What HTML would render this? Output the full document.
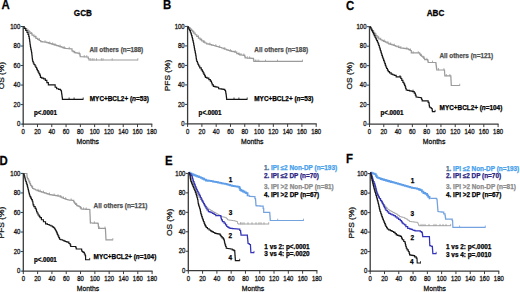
<!DOCTYPE html>
<html><head><meta charset="utf-8"><title>Survival curves</title>
<style>
html,body{margin:0;padding:0;background:#fff;width:520px;height:292px;overflow:hidden;}
svg{display:block;font-family:"Liberation Sans", sans-serif;}
</style></head><body>
<svg width="520" height="292" viewBox="0 0 520 292" font-family='"Liberation Sans", sans-serif'>
<rect width="520" height="292" fill="#fff"/>
<text transform="translate(1.55,9.35) scale(0.92,1)" font-size="12.4" font-weight="bold" fill="#000" text-anchor="start" stroke="#000" stroke-width="0.25">A</text>
<text transform="translate(163.1,9.05) scale(0.92,1)" font-size="12.4" font-weight="bold" fill="#000" text-anchor="start" stroke="#000" stroke-width="0.25">B</text>
<text transform="translate(346,9.65) scale(0.92,1)" font-size="12.4" font-weight="bold" fill="#000" text-anchor="start" stroke="#000" stroke-width="0.25">C</text>
<text transform="translate(-0.6,165.45) scale(0.92,1)" font-size="12.4" font-weight="bold" fill="#000" text-anchor="start" stroke="#000" stroke-width="0.25">D</text>
<text transform="translate(164.9,164.55) scale(0.92,1)" font-size="12.4" font-weight="bold" fill="#000" text-anchor="start" stroke="#000" stroke-width="0.25">E</text>
<text transform="translate(346,162.95) scale(0.92,1)" font-size="12.4" font-weight="bold" fill="#000" text-anchor="start" stroke="#000" stroke-width="0.25">F</text>
<text transform="translate(82.9,15.78) scale(0.95,1)" font-size="8.6" font-weight="bold" fill="#000" text-anchor="middle" stroke="#000" stroke-width="0.25">GCB</text>
<text transform="translate(435.5,16.08) scale(0.95,1)" font-size="8.6" font-weight="bold" fill="#000" text-anchor="middle" stroke="#000" stroke-width="0.25">ABC</text>
<line x1="23.2" y1="26" x2="23.2" y2="124.7" stroke="#3a3a3a" stroke-width="1.3"/>
<line x1="22.6" y1="124.1" x2="152.3" y2="124.1" stroke="#3a3a3a" stroke-width="1.2"/>
<line x1="20.6" y1="124.1" x2="23.2" y2="124.1" stroke="#3a3a3a" stroke-width="1"/>
<text transform="translate(20.2,126.33) scale(0.92,1)" font-size="6.5" font-weight="normal" fill="#1a1a1a" text-anchor="end" stroke="#1a1a1a" stroke-width="0.3">0</text>
<line x1="20.6" y1="104.58" x2="23.2" y2="104.58" stroke="#3a3a3a" stroke-width="1"/>
<text transform="translate(20.2,106.81) scale(0.92,1)" font-size="6.5" font-weight="normal" fill="#1a1a1a" text-anchor="end" stroke="#1a1a1a" stroke-width="0.3">20</text>
<line x1="20.6" y1="85.06" x2="23.2" y2="85.06" stroke="#3a3a3a" stroke-width="1"/>
<text transform="translate(20.2,87.29) scale(0.92,1)" font-size="6.5" font-weight="normal" fill="#1a1a1a" text-anchor="end" stroke="#1a1a1a" stroke-width="0.3">40</text>
<line x1="20.6" y1="65.54" x2="23.2" y2="65.54" stroke="#3a3a3a" stroke-width="1"/>
<text transform="translate(20.2,67.77) scale(0.92,1)" font-size="6.5" font-weight="normal" fill="#1a1a1a" text-anchor="end" stroke="#1a1a1a" stroke-width="0.3">60</text>
<line x1="20.6" y1="46.02" x2="23.2" y2="46.02" stroke="#3a3a3a" stroke-width="1"/>
<text transform="translate(20.2,48.25) scale(0.92,1)" font-size="6.5" font-weight="normal" fill="#1a1a1a" text-anchor="end" stroke="#1a1a1a" stroke-width="0.3">80</text>
<line x1="20.6" y1="26.5" x2="23.2" y2="26.5" stroke="#3a3a3a" stroke-width="1"/>
<text transform="translate(20.2,28.73) scale(0.92,1)" font-size="6.5" font-weight="normal" fill="#1a1a1a" text-anchor="end" stroke="#1a1a1a" stroke-width="0.3">100</text>
<line x1="23.2" y1="124.1" x2="23.2" y2="127.1" stroke="#3a3a3a" stroke-width="1"/>
<text transform="translate(23.2,134.03) scale(0.92,1)" font-size="6.5" font-weight="normal" fill="#1a1a1a" text-anchor="middle" stroke="#1a1a1a" stroke-width="0.3">0</text>
<line x1="37.49" y1="124.1" x2="37.49" y2="127.1" stroke="#3a3a3a" stroke-width="1"/>
<text transform="translate(37.49,134.03) scale(0.92,1)" font-size="6.5" font-weight="normal" fill="#1a1a1a" text-anchor="middle" stroke="#1a1a1a" stroke-width="0.3">20</text>
<line x1="51.78" y1="124.1" x2="51.78" y2="127.1" stroke="#3a3a3a" stroke-width="1"/>
<text transform="translate(51.78,134.03) scale(0.92,1)" font-size="6.5" font-weight="normal" fill="#1a1a1a" text-anchor="middle" stroke="#1a1a1a" stroke-width="0.3">40</text>
<line x1="66.07" y1="124.1" x2="66.07" y2="127.1" stroke="#3a3a3a" stroke-width="1"/>
<text transform="translate(66.07,134.03) scale(0.92,1)" font-size="6.5" font-weight="normal" fill="#1a1a1a" text-anchor="middle" stroke="#1a1a1a" stroke-width="0.3">60</text>
<line x1="80.36" y1="124.1" x2="80.36" y2="127.1" stroke="#3a3a3a" stroke-width="1"/>
<text transform="translate(80.36,134.03) scale(0.92,1)" font-size="6.5" font-weight="normal" fill="#1a1a1a" text-anchor="middle" stroke="#1a1a1a" stroke-width="0.3">80</text>
<line x1="94.64" y1="124.1" x2="94.64" y2="127.1" stroke="#3a3a3a" stroke-width="1"/>
<text transform="translate(94.64,134.03) scale(0.92,1)" font-size="6.5" font-weight="normal" fill="#1a1a1a" text-anchor="middle" stroke="#1a1a1a" stroke-width="0.3">100</text>
<line x1="108.93" y1="124.1" x2="108.93" y2="127.1" stroke="#3a3a3a" stroke-width="1"/>
<text transform="translate(108.93,134.03) scale(0.92,1)" font-size="6.5" font-weight="normal" fill="#1a1a1a" text-anchor="middle" stroke="#1a1a1a" stroke-width="0.3">120</text>
<line x1="123.22" y1="124.1" x2="123.22" y2="127.1" stroke="#3a3a3a" stroke-width="1"/>
<text transform="translate(123.22,134.03) scale(0.92,1)" font-size="6.5" font-weight="normal" fill="#1a1a1a" text-anchor="middle" stroke="#1a1a1a" stroke-width="0.3">140</text>
<line x1="137.51" y1="124.1" x2="137.51" y2="127.1" stroke="#3a3a3a" stroke-width="1"/>
<text transform="translate(137.51,134.03) scale(0.92,1)" font-size="6.5" font-weight="normal" fill="#1a1a1a" text-anchor="middle" stroke="#1a1a1a" stroke-width="0.3">160</text>
<line x1="151.8" y1="124.1" x2="151.8" y2="127.1" stroke="#3a3a3a" stroke-width="1"/>
<text transform="translate(151.8,134.03) scale(0.92,1)" font-size="6.5" font-weight="normal" fill="#1a1a1a" text-anchor="middle" stroke="#1a1a1a" stroke-width="0.3">180</text>
<text transform="translate(4.1,75.65) rotate(-90) scale(1.06,1)" font-size="7.9" fill="#151515" text-anchor="middle" stroke="#151515" stroke-width="0.28">OS (%)</text>
<text transform="translate(87.8,144.1) scale(0.88,1)" font-size="7.8" fill="#111" text-anchor="middle" stroke="#111" stroke-width="0.3">Months</text>
<line x1="187.6" y1="25.9" x2="187.6" y2="124.5" stroke="#3a3a3a" stroke-width="1.3"/>
<line x1="187" y1="123.9" x2="316.7" y2="123.9" stroke="#3a3a3a" stroke-width="1.2"/>
<line x1="185" y1="123.9" x2="187.6" y2="123.9" stroke="#3a3a3a" stroke-width="1"/>
<text transform="translate(184.6,126.13) scale(0.92,1)" font-size="6.5" font-weight="normal" fill="#1a1a1a" text-anchor="end" stroke="#1a1a1a" stroke-width="0.3">0</text>
<line x1="185" y1="104.4" x2="187.6" y2="104.4" stroke="#3a3a3a" stroke-width="1"/>
<text transform="translate(184.6,106.63) scale(0.92,1)" font-size="6.5" font-weight="normal" fill="#1a1a1a" text-anchor="end" stroke="#1a1a1a" stroke-width="0.3">20</text>
<line x1="185" y1="84.9" x2="187.6" y2="84.9" stroke="#3a3a3a" stroke-width="1"/>
<text transform="translate(184.6,87.13) scale(0.92,1)" font-size="6.5" font-weight="normal" fill="#1a1a1a" text-anchor="end" stroke="#1a1a1a" stroke-width="0.3">40</text>
<line x1="185" y1="65.4" x2="187.6" y2="65.4" stroke="#3a3a3a" stroke-width="1"/>
<text transform="translate(184.6,67.63) scale(0.92,1)" font-size="6.5" font-weight="normal" fill="#1a1a1a" text-anchor="end" stroke="#1a1a1a" stroke-width="0.3">60</text>
<line x1="185" y1="45.9" x2="187.6" y2="45.9" stroke="#3a3a3a" stroke-width="1"/>
<text transform="translate(184.6,48.13) scale(0.92,1)" font-size="6.5" font-weight="normal" fill="#1a1a1a" text-anchor="end" stroke="#1a1a1a" stroke-width="0.3">80</text>
<line x1="185" y1="26.4" x2="187.6" y2="26.4" stroke="#3a3a3a" stroke-width="1"/>
<text transform="translate(184.6,28.63) scale(0.92,1)" font-size="6.5" font-weight="normal" fill="#1a1a1a" text-anchor="end" stroke="#1a1a1a" stroke-width="0.3">100</text>
<line x1="187.6" y1="123.9" x2="187.6" y2="126.9" stroke="#3a3a3a" stroke-width="1"/>
<text transform="translate(187.6,133.83) scale(0.92,1)" font-size="6.5" font-weight="normal" fill="#1a1a1a" text-anchor="middle" stroke="#1a1a1a" stroke-width="0.3">0</text>
<line x1="201.89" y1="123.9" x2="201.89" y2="126.9" stroke="#3a3a3a" stroke-width="1"/>
<text transform="translate(201.89,133.83) scale(0.92,1)" font-size="6.5" font-weight="normal" fill="#1a1a1a" text-anchor="middle" stroke="#1a1a1a" stroke-width="0.3">20</text>
<line x1="216.18" y1="123.9" x2="216.18" y2="126.9" stroke="#3a3a3a" stroke-width="1"/>
<text transform="translate(216.18,133.83) scale(0.92,1)" font-size="6.5" font-weight="normal" fill="#1a1a1a" text-anchor="middle" stroke="#1a1a1a" stroke-width="0.3">40</text>
<line x1="230.47" y1="123.9" x2="230.47" y2="126.9" stroke="#3a3a3a" stroke-width="1"/>
<text transform="translate(230.47,133.83) scale(0.92,1)" font-size="6.5" font-weight="normal" fill="#1a1a1a" text-anchor="middle" stroke="#1a1a1a" stroke-width="0.3">60</text>
<line x1="244.76" y1="123.9" x2="244.76" y2="126.9" stroke="#3a3a3a" stroke-width="1"/>
<text transform="translate(244.76,133.83) scale(0.92,1)" font-size="6.5" font-weight="normal" fill="#1a1a1a" text-anchor="middle" stroke="#1a1a1a" stroke-width="0.3">80</text>
<line x1="259.04" y1="123.9" x2="259.04" y2="126.9" stroke="#3a3a3a" stroke-width="1"/>
<text transform="translate(259.04,133.83) scale(0.92,1)" font-size="6.5" font-weight="normal" fill="#1a1a1a" text-anchor="middle" stroke="#1a1a1a" stroke-width="0.3">100</text>
<line x1="273.33" y1="123.9" x2="273.33" y2="126.9" stroke="#3a3a3a" stroke-width="1"/>
<text transform="translate(273.33,133.83) scale(0.92,1)" font-size="6.5" font-weight="normal" fill="#1a1a1a" text-anchor="middle" stroke="#1a1a1a" stroke-width="0.3">120</text>
<line x1="287.62" y1="123.9" x2="287.62" y2="126.9" stroke="#3a3a3a" stroke-width="1"/>
<text transform="translate(287.62,133.83) scale(0.92,1)" font-size="6.5" font-weight="normal" fill="#1a1a1a" text-anchor="middle" stroke="#1a1a1a" stroke-width="0.3">140</text>
<line x1="301.91" y1="123.9" x2="301.91" y2="126.9" stroke="#3a3a3a" stroke-width="1"/>
<text transform="translate(301.91,133.83) scale(0.92,1)" font-size="6.5" font-weight="normal" fill="#1a1a1a" text-anchor="middle" stroke="#1a1a1a" stroke-width="0.3">160</text>
<line x1="316.2" y1="123.9" x2="316.2" y2="126.9" stroke="#3a3a3a" stroke-width="1"/>
<text transform="translate(316.2,133.83) scale(0.92,1)" font-size="6.5" font-weight="normal" fill="#1a1a1a" text-anchor="middle" stroke="#1a1a1a" stroke-width="0.3">180</text>
<text transform="translate(169.6,75.5) rotate(-90) scale(1.06,1)" font-size="7.9" fill="#151515" text-anchor="middle" stroke="#151515" stroke-width="0.28">PFS (%)</text>
<text transform="translate(252.2,143.9) scale(0.88,1)" font-size="7.8" fill="#111" text-anchor="middle" stroke="#111" stroke-width="0.3">Months</text>
<line x1="369.5" y1="26.2" x2="369.5" y2="124.7" stroke="#3a3a3a" stroke-width="1.3"/>
<line x1="368.9" y1="124.1" x2="498.6" y2="124.1" stroke="#3a3a3a" stroke-width="1.2"/>
<line x1="366.9" y1="124.1" x2="369.5" y2="124.1" stroke="#3a3a3a" stroke-width="1"/>
<text transform="translate(366.5,126.33) scale(0.92,1)" font-size="6.5" font-weight="normal" fill="#1a1a1a" text-anchor="end" stroke="#1a1a1a" stroke-width="0.3">0</text>
<line x1="366.9" y1="104.62" x2="369.5" y2="104.62" stroke="#3a3a3a" stroke-width="1"/>
<text transform="translate(366.5,106.85) scale(0.92,1)" font-size="6.5" font-weight="normal" fill="#1a1a1a" text-anchor="end" stroke="#1a1a1a" stroke-width="0.3">20</text>
<line x1="366.9" y1="85.14" x2="369.5" y2="85.14" stroke="#3a3a3a" stroke-width="1"/>
<text transform="translate(366.5,87.37) scale(0.92,1)" font-size="6.5" font-weight="normal" fill="#1a1a1a" text-anchor="end" stroke="#1a1a1a" stroke-width="0.3">40</text>
<line x1="366.9" y1="65.66" x2="369.5" y2="65.66" stroke="#3a3a3a" stroke-width="1"/>
<text transform="translate(366.5,67.89) scale(0.92,1)" font-size="6.5" font-weight="normal" fill="#1a1a1a" text-anchor="end" stroke="#1a1a1a" stroke-width="0.3">60</text>
<line x1="366.9" y1="46.18" x2="369.5" y2="46.18" stroke="#3a3a3a" stroke-width="1"/>
<text transform="translate(366.5,48.41) scale(0.92,1)" font-size="6.5" font-weight="normal" fill="#1a1a1a" text-anchor="end" stroke="#1a1a1a" stroke-width="0.3">80</text>
<line x1="366.9" y1="26.7" x2="369.5" y2="26.7" stroke="#3a3a3a" stroke-width="1"/>
<text transform="translate(366.5,28.93) scale(0.92,1)" font-size="6.5" font-weight="normal" fill="#1a1a1a" text-anchor="end" stroke="#1a1a1a" stroke-width="0.3">100</text>
<line x1="369.5" y1="124.1" x2="369.5" y2="127.1" stroke="#3a3a3a" stroke-width="1"/>
<text transform="translate(369.5,134.03) scale(0.92,1)" font-size="6.5" font-weight="normal" fill="#1a1a1a" text-anchor="middle" stroke="#1a1a1a" stroke-width="0.3">0</text>
<line x1="383.79" y1="124.1" x2="383.79" y2="127.1" stroke="#3a3a3a" stroke-width="1"/>
<text transform="translate(383.79,134.03) scale(0.92,1)" font-size="6.5" font-weight="normal" fill="#1a1a1a" text-anchor="middle" stroke="#1a1a1a" stroke-width="0.3">20</text>
<line x1="398.08" y1="124.1" x2="398.08" y2="127.1" stroke="#3a3a3a" stroke-width="1"/>
<text transform="translate(398.08,134.03) scale(0.92,1)" font-size="6.5" font-weight="normal" fill="#1a1a1a" text-anchor="middle" stroke="#1a1a1a" stroke-width="0.3">40</text>
<line x1="412.37" y1="124.1" x2="412.37" y2="127.1" stroke="#3a3a3a" stroke-width="1"/>
<text transform="translate(412.37,134.03) scale(0.92,1)" font-size="6.5" font-weight="normal" fill="#1a1a1a" text-anchor="middle" stroke="#1a1a1a" stroke-width="0.3">60</text>
<line x1="426.66" y1="124.1" x2="426.66" y2="127.1" stroke="#3a3a3a" stroke-width="1"/>
<text transform="translate(426.66,134.03) scale(0.92,1)" font-size="6.5" font-weight="normal" fill="#1a1a1a" text-anchor="middle" stroke="#1a1a1a" stroke-width="0.3">80</text>
<line x1="440.94" y1="124.1" x2="440.94" y2="127.1" stroke="#3a3a3a" stroke-width="1"/>
<text transform="translate(440.94,134.03) scale(0.92,1)" font-size="6.5" font-weight="normal" fill="#1a1a1a" text-anchor="middle" stroke="#1a1a1a" stroke-width="0.3">100</text>
<line x1="455.23" y1="124.1" x2="455.23" y2="127.1" stroke="#3a3a3a" stroke-width="1"/>
<text transform="translate(455.23,134.03) scale(0.92,1)" font-size="6.5" font-weight="normal" fill="#1a1a1a" text-anchor="middle" stroke="#1a1a1a" stroke-width="0.3">120</text>
<line x1="469.52" y1="124.1" x2="469.52" y2="127.1" stroke="#3a3a3a" stroke-width="1"/>
<text transform="translate(469.52,134.03) scale(0.92,1)" font-size="6.5" font-weight="normal" fill="#1a1a1a" text-anchor="middle" stroke="#1a1a1a" stroke-width="0.3">140</text>
<line x1="483.81" y1="124.1" x2="483.81" y2="127.1" stroke="#3a3a3a" stroke-width="1"/>
<text transform="translate(483.81,134.03) scale(0.92,1)" font-size="6.5" font-weight="normal" fill="#1a1a1a" text-anchor="middle" stroke="#1a1a1a" stroke-width="0.3">160</text>
<line x1="498.1" y1="124.1" x2="498.1" y2="127.1" stroke="#3a3a3a" stroke-width="1"/>
<text transform="translate(498.1,134.03) scale(0.92,1)" font-size="6.5" font-weight="normal" fill="#1a1a1a" text-anchor="middle" stroke="#1a1a1a" stroke-width="0.3">180</text>
<text transform="translate(352.1,75.75) rotate(-90) scale(1.06,1)" font-size="7.9" fill="#151515" text-anchor="middle" stroke="#151515" stroke-width="0.28">OS (%)</text>
<text transform="translate(434.1,144.1) scale(0.88,1)" font-size="7.8" fill="#111" text-anchor="middle" stroke="#111" stroke-width="0.3">Months</text>
<line x1="23.3" y1="172.9" x2="23.3" y2="271.7" stroke="#3a3a3a" stroke-width="1.3"/>
<line x1="22.7" y1="271.1" x2="152.6" y2="271.1" stroke="#3a3a3a" stroke-width="1.2"/>
<line x1="20.7" y1="271.1" x2="23.3" y2="271.1" stroke="#3a3a3a" stroke-width="1"/>
<text transform="translate(20.3,273.33) scale(0.92,1)" font-size="6.5" font-weight="normal" fill="#1a1a1a" text-anchor="end" stroke="#1a1a1a" stroke-width="0.3">0</text>
<line x1="20.7" y1="251.56" x2="23.3" y2="251.56" stroke="#3a3a3a" stroke-width="1"/>
<text transform="translate(20.3,253.79) scale(0.92,1)" font-size="6.5" font-weight="normal" fill="#1a1a1a" text-anchor="end" stroke="#1a1a1a" stroke-width="0.3">20</text>
<line x1="20.7" y1="232.02" x2="23.3" y2="232.02" stroke="#3a3a3a" stroke-width="1"/>
<text transform="translate(20.3,234.25) scale(0.92,1)" font-size="6.5" font-weight="normal" fill="#1a1a1a" text-anchor="end" stroke="#1a1a1a" stroke-width="0.3">40</text>
<line x1="20.7" y1="212.48" x2="23.3" y2="212.48" stroke="#3a3a3a" stroke-width="1"/>
<text transform="translate(20.3,214.71) scale(0.92,1)" font-size="6.5" font-weight="normal" fill="#1a1a1a" text-anchor="end" stroke="#1a1a1a" stroke-width="0.3">60</text>
<line x1="20.7" y1="192.94" x2="23.3" y2="192.94" stroke="#3a3a3a" stroke-width="1"/>
<text transform="translate(20.3,195.17) scale(0.92,1)" font-size="6.5" font-weight="normal" fill="#1a1a1a" text-anchor="end" stroke="#1a1a1a" stroke-width="0.3">80</text>
<line x1="20.7" y1="173.4" x2="23.3" y2="173.4" stroke="#3a3a3a" stroke-width="1"/>
<text transform="translate(20.3,175.63) scale(0.92,1)" font-size="6.5" font-weight="normal" fill="#1a1a1a" text-anchor="end" stroke="#1a1a1a" stroke-width="0.3">100</text>
<line x1="23.3" y1="271.1" x2="23.3" y2="274.1" stroke="#3a3a3a" stroke-width="1"/>
<text transform="translate(23.3,281.03) scale(0.92,1)" font-size="6.5" font-weight="normal" fill="#1a1a1a" text-anchor="middle" stroke="#1a1a1a" stroke-width="0.3">0</text>
<line x1="37.61" y1="271.1" x2="37.61" y2="274.1" stroke="#3a3a3a" stroke-width="1"/>
<text transform="translate(37.61,281.03) scale(0.92,1)" font-size="6.5" font-weight="normal" fill="#1a1a1a" text-anchor="middle" stroke="#1a1a1a" stroke-width="0.3">20</text>
<line x1="51.92" y1="271.1" x2="51.92" y2="274.1" stroke="#3a3a3a" stroke-width="1"/>
<text transform="translate(51.92,281.03) scale(0.92,1)" font-size="6.5" font-weight="normal" fill="#1a1a1a" text-anchor="middle" stroke="#1a1a1a" stroke-width="0.3">40</text>
<line x1="66.23" y1="271.1" x2="66.23" y2="274.1" stroke="#3a3a3a" stroke-width="1"/>
<text transform="translate(66.23,281.03) scale(0.92,1)" font-size="6.5" font-weight="normal" fill="#1a1a1a" text-anchor="middle" stroke="#1a1a1a" stroke-width="0.3">60</text>
<line x1="80.54" y1="271.1" x2="80.54" y2="274.1" stroke="#3a3a3a" stroke-width="1"/>
<text transform="translate(80.54,281.03) scale(0.92,1)" font-size="6.5" font-weight="normal" fill="#1a1a1a" text-anchor="middle" stroke="#1a1a1a" stroke-width="0.3">80</text>
<line x1="94.86" y1="271.1" x2="94.86" y2="274.1" stroke="#3a3a3a" stroke-width="1"/>
<text transform="translate(94.86,281.03) scale(0.92,1)" font-size="6.5" font-weight="normal" fill="#1a1a1a" text-anchor="middle" stroke="#1a1a1a" stroke-width="0.3">100</text>
<line x1="109.17" y1="271.1" x2="109.17" y2="274.1" stroke="#3a3a3a" stroke-width="1"/>
<text transform="translate(109.17,281.03) scale(0.92,1)" font-size="6.5" font-weight="normal" fill="#1a1a1a" text-anchor="middle" stroke="#1a1a1a" stroke-width="0.3">120</text>
<line x1="123.48" y1="271.1" x2="123.48" y2="274.1" stroke="#3a3a3a" stroke-width="1"/>
<text transform="translate(123.48,281.03) scale(0.92,1)" font-size="6.5" font-weight="normal" fill="#1a1a1a" text-anchor="middle" stroke="#1a1a1a" stroke-width="0.3">140</text>
<line x1="137.79" y1="271.1" x2="137.79" y2="274.1" stroke="#3a3a3a" stroke-width="1"/>
<text transform="translate(137.79,281.03) scale(0.92,1)" font-size="6.5" font-weight="normal" fill="#1a1a1a" text-anchor="middle" stroke="#1a1a1a" stroke-width="0.3">160</text>
<line x1="152.1" y1="271.1" x2="152.1" y2="274.1" stroke="#3a3a3a" stroke-width="1"/>
<text transform="translate(152.1,281.03) scale(0.92,1)" font-size="6.5" font-weight="normal" fill="#1a1a1a" text-anchor="middle" stroke="#1a1a1a" stroke-width="0.3">180</text>
<text transform="translate(4.2,222.6) rotate(-90) scale(1.06,1)" font-size="7.9" fill="#151515" text-anchor="middle" stroke="#151515" stroke-width="0.28">PFS (%)</text>
<text transform="translate(88,291.1) scale(0.88,1)" font-size="7.8" fill="#111" text-anchor="middle" stroke="#111" stroke-width="0.3">Months</text>
<line x1="188.3" y1="172.9" x2="188.3" y2="271.3" stroke="#3a3a3a" stroke-width="1.3"/>
<line x1="187.7" y1="270.7" x2="317.4" y2="270.7" stroke="#3a3a3a" stroke-width="1.2"/>
<line x1="185.7" y1="270.7" x2="188.3" y2="270.7" stroke="#3a3a3a" stroke-width="1"/>
<text transform="translate(185.3,272.93) scale(0.92,1)" font-size="6.5" font-weight="normal" fill="#1a1a1a" text-anchor="end" stroke="#1a1a1a" stroke-width="0.3">0</text>
<line x1="185.7" y1="251.24" x2="188.3" y2="251.24" stroke="#3a3a3a" stroke-width="1"/>
<text transform="translate(185.3,253.47) scale(0.92,1)" font-size="6.5" font-weight="normal" fill="#1a1a1a" text-anchor="end" stroke="#1a1a1a" stroke-width="0.3">20</text>
<line x1="185.7" y1="231.78" x2="188.3" y2="231.78" stroke="#3a3a3a" stroke-width="1"/>
<text transform="translate(185.3,234.01) scale(0.92,1)" font-size="6.5" font-weight="normal" fill="#1a1a1a" text-anchor="end" stroke="#1a1a1a" stroke-width="0.3">40</text>
<line x1="185.7" y1="212.32" x2="188.3" y2="212.32" stroke="#3a3a3a" stroke-width="1"/>
<text transform="translate(185.3,214.55) scale(0.92,1)" font-size="6.5" font-weight="normal" fill="#1a1a1a" text-anchor="end" stroke="#1a1a1a" stroke-width="0.3">60</text>
<line x1="185.7" y1="192.86" x2="188.3" y2="192.86" stroke="#3a3a3a" stroke-width="1"/>
<text transform="translate(185.3,195.09) scale(0.92,1)" font-size="6.5" font-weight="normal" fill="#1a1a1a" text-anchor="end" stroke="#1a1a1a" stroke-width="0.3">80</text>
<line x1="185.7" y1="173.4" x2="188.3" y2="173.4" stroke="#3a3a3a" stroke-width="1"/>
<text transform="translate(185.3,175.63) scale(0.92,1)" font-size="6.5" font-weight="normal" fill="#1a1a1a" text-anchor="end" stroke="#1a1a1a" stroke-width="0.3">100</text>
<line x1="188.3" y1="270.7" x2="188.3" y2="273.7" stroke="#3a3a3a" stroke-width="1"/>
<text transform="translate(188.3,280.63) scale(0.92,1)" font-size="6.5" font-weight="normal" fill="#1a1a1a" text-anchor="middle" stroke="#1a1a1a" stroke-width="0.3">0</text>
<line x1="202.59" y1="270.7" x2="202.59" y2="273.7" stroke="#3a3a3a" stroke-width="1"/>
<text transform="translate(202.59,280.63) scale(0.92,1)" font-size="6.5" font-weight="normal" fill="#1a1a1a" text-anchor="middle" stroke="#1a1a1a" stroke-width="0.3">20</text>
<line x1="216.88" y1="270.7" x2="216.88" y2="273.7" stroke="#3a3a3a" stroke-width="1"/>
<text transform="translate(216.88,280.63) scale(0.92,1)" font-size="6.5" font-weight="normal" fill="#1a1a1a" text-anchor="middle" stroke="#1a1a1a" stroke-width="0.3">40</text>
<line x1="231.17" y1="270.7" x2="231.17" y2="273.7" stroke="#3a3a3a" stroke-width="1"/>
<text transform="translate(231.17,280.63) scale(0.92,1)" font-size="6.5" font-weight="normal" fill="#1a1a1a" text-anchor="middle" stroke="#1a1a1a" stroke-width="0.3">60</text>
<line x1="245.46" y1="270.7" x2="245.46" y2="273.7" stroke="#3a3a3a" stroke-width="1"/>
<text transform="translate(245.46,280.63) scale(0.92,1)" font-size="6.5" font-weight="normal" fill="#1a1a1a" text-anchor="middle" stroke="#1a1a1a" stroke-width="0.3">80</text>
<line x1="259.74" y1="270.7" x2="259.74" y2="273.7" stroke="#3a3a3a" stroke-width="1"/>
<text transform="translate(259.74,280.63) scale(0.92,1)" font-size="6.5" font-weight="normal" fill="#1a1a1a" text-anchor="middle" stroke="#1a1a1a" stroke-width="0.3">100</text>
<line x1="274.03" y1="270.7" x2="274.03" y2="273.7" stroke="#3a3a3a" stroke-width="1"/>
<text transform="translate(274.03,280.63) scale(0.92,1)" font-size="6.5" font-weight="normal" fill="#1a1a1a" text-anchor="middle" stroke="#1a1a1a" stroke-width="0.3">120</text>
<line x1="288.32" y1="270.7" x2="288.32" y2="273.7" stroke="#3a3a3a" stroke-width="1"/>
<text transform="translate(288.32,280.63) scale(0.92,1)" font-size="6.5" font-weight="normal" fill="#1a1a1a" text-anchor="middle" stroke="#1a1a1a" stroke-width="0.3">140</text>
<line x1="302.61" y1="270.7" x2="302.61" y2="273.7" stroke="#3a3a3a" stroke-width="1"/>
<text transform="translate(302.61,280.63) scale(0.92,1)" font-size="6.5" font-weight="normal" fill="#1a1a1a" text-anchor="middle" stroke="#1a1a1a" stroke-width="0.3">160</text>
<line x1="316.9" y1="270.7" x2="316.9" y2="273.7" stroke="#3a3a3a" stroke-width="1"/>
<text transform="translate(316.9,280.63) scale(0.92,1)" font-size="6.5" font-weight="normal" fill="#1a1a1a" text-anchor="middle" stroke="#1a1a1a" stroke-width="0.3">180</text>
<text transform="translate(171.7,222.4) rotate(-90) scale(1.06,1)" font-size="7.9" fill="#151515" text-anchor="middle" stroke="#151515" stroke-width="0.28">OS (%)</text>
<text transform="translate(252.9,290.7) scale(0.88,1)" font-size="7.8" fill="#111" text-anchor="middle" stroke="#111" stroke-width="0.3">Months</text>
<line x1="370.2" y1="173.1" x2="370.2" y2="271.7" stroke="#3a3a3a" stroke-width="1.3"/>
<line x1="369.6" y1="271.1" x2="499.3" y2="271.1" stroke="#3a3a3a" stroke-width="1.2"/>
<line x1="367.6" y1="271.1" x2="370.2" y2="271.1" stroke="#3a3a3a" stroke-width="1"/>
<text transform="translate(367.2,273.33) scale(0.92,1)" font-size="6.5" font-weight="normal" fill="#1a1a1a" text-anchor="end" stroke="#1a1a1a" stroke-width="0.3">0</text>
<line x1="367.6" y1="251.6" x2="370.2" y2="251.6" stroke="#3a3a3a" stroke-width="1"/>
<text transform="translate(367.2,253.83) scale(0.92,1)" font-size="6.5" font-weight="normal" fill="#1a1a1a" text-anchor="end" stroke="#1a1a1a" stroke-width="0.3">20</text>
<line x1="367.6" y1="232.1" x2="370.2" y2="232.1" stroke="#3a3a3a" stroke-width="1"/>
<text transform="translate(367.2,234.33) scale(0.92,1)" font-size="6.5" font-weight="normal" fill="#1a1a1a" text-anchor="end" stroke="#1a1a1a" stroke-width="0.3">40</text>
<line x1="367.6" y1="212.6" x2="370.2" y2="212.6" stroke="#3a3a3a" stroke-width="1"/>
<text transform="translate(367.2,214.83) scale(0.92,1)" font-size="6.5" font-weight="normal" fill="#1a1a1a" text-anchor="end" stroke="#1a1a1a" stroke-width="0.3">60</text>
<line x1="367.6" y1="193.1" x2="370.2" y2="193.1" stroke="#3a3a3a" stroke-width="1"/>
<text transform="translate(367.2,195.33) scale(0.92,1)" font-size="6.5" font-weight="normal" fill="#1a1a1a" text-anchor="end" stroke="#1a1a1a" stroke-width="0.3">80</text>
<line x1="367.6" y1="173.6" x2="370.2" y2="173.6" stroke="#3a3a3a" stroke-width="1"/>
<text transform="translate(367.2,175.83) scale(0.92,1)" font-size="6.5" font-weight="normal" fill="#1a1a1a" text-anchor="end" stroke="#1a1a1a" stroke-width="0.3">100</text>
<line x1="370.2" y1="271.1" x2="370.2" y2="274.1" stroke="#3a3a3a" stroke-width="1"/>
<text transform="translate(370.2,281.03) scale(0.92,1)" font-size="6.5" font-weight="normal" fill="#1a1a1a" text-anchor="middle" stroke="#1a1a1a" stroke-width="0.3">0</text>
<line x1="384.49" y1="271.1" x2="384.49" y2="274.1" stroke="#3a3a3a" stroke-width="1"/>
<text transform="translate(384.49,281.03) scale(0.92,1)" font-size="6.5" font-weight="normal" fill="#1a1a1a" text-anchor="middle" stroke="#1a1a1a" stroke-width="0.3">20</text>
<line x1="398.78" y1="271.1" x2="398.78" y2="274.1" stroke="#3a3a3a" stroke-width="1"/>
<text transform="translate(398.78,281.03) scale(0.92,1)" font-size="6.5" font-weight="normal" fill="#1a1a1a" text-anchor="middle" stroke="#1a1a1a" stroke-width="0.3">40</text>
<line x1="413.07" y1="271.1" x2="413.07" y2="274.1" stroke="#3a3a3a" stroke-width="1"/>
<text transform="translate(413.07,281.03) scale(0.92,1)" font-size="6.5" font-weight="normal" fill="#1a1a1a" text-anchor="middle" stroke="#1a1a1a" stroke-width="0.3">60</text>
<line x1="427.36" y1="271.1" x2="427.36" y2="274.1" stroke="#3a3a3a" stroke-width="1"/>
<text transform="translate(427.36,281.03) scale(0.92,1)" font-size="6.5" font-weight="normal" fill="#1a1a1a" text-anchor="middle" stroke="#1a1a1a" stroke-width="0.3">80</text>
<line x1="441.64" y1="271.1" x2="441.64" y2="274.1" stroke="#3a3a3a" stroke-width="1"/>
<text transform="translate(441.64,281.03) scale(0.92,1)" font-size="6.5" font-weight="normal" fill="#1a1a1a" text-anchor="middle" stroke="#1a1a1a" stroke-width="0.3">100</text>
<line x1="455.93" y1="271.1" x2="455.93" y2="274.1" stroke="#3a3a3a" stroke-width="1"/>
<text transform="translate(455.93,281.03) scale(0.92,1)" font-size="6.5" font-weight="normal" fill="#1a1a1a" text-anchor="middle" stroke="#1a1a1a" stroke-width="0.3">120</text>
<line x1="470.22" y1="271.1" x2="470.22" y2="274.1" stroke="#3a3a3a" stroke-width="1"/>
<text transform="translate(470.22,281.03) scale(0.92,1)" font-size="6.5" font-weight="normal" fill="#1a1a1a" text-anchor="middle" stroke="#1a1a1a" stroke-width="0.3">140</text>
<line x1="484.51" y1="271.1" x2="484.51" y2="274.1" stroke="#3a3a3a" stroke-width="1"/>
<text transform="translate(484.51,281.03) scale(0.92,1)" font-size="6.5" font-weight="normal" fill="#1a1a1a" text-anchor="middle" stroke="#1a1a1a" stroke-width="0.3">160</text>
<line x1="498.8" y1="271.1" x2="498.8" y2="274.1" stroke="#3a3a3a" stroke-width="1"/>
<text transform="translate(498.8,281.03) scale(0.92,1)" font-size="6.5" font-weight="normal" fill="#1a1a1a" text-anchor="middle" stroke="#1a1a1a" stroke-width="0.3">180</text>
<text transform="translate(353.6,222.7) rotate(-90) scale(1.06,1)" font-size="7.9" fill="#151515" text-anchor="middle" stroke="#151515" stroke-width="0.28">PFS (%)</text>
<text transform="translate(434.8,291.1) scale(0.88,1)" font-size="7.8" fill="#111" text-anchor="middle" stroke="#111" stroke-width="0.3">Months</text>
<line x1="90.7" y1="60.5" x2="90.7" y2="58.2" stroke="#9b9b9b" stroke-width="0.8"/>
<line x1="92.3" y1="60.5" x2="92.3" y2="58.2" stroke="#9b9b9b" stroke-width="0.8"/>
<line x1="94" y1="60.5" x2="94" y2="58.2" stroke="#9b9b9b" stroke-width="0.8"/>
<line x1="96.5" y1="60.5" x2="96.5" y2="58.2" stroke="#9b9b9b" stroke-width="0.8"/>
<line x1="101.4" y1="60.5" x2="101.4" y2="58.2" stroke="#9b9b9b" stroke-width="0.8"/>
<line x1="103" y1="60.5" x2="103" y2="58.2" stroke="#9b9b9b" stroke-width="0.8"/>
<line x1="112.2" y1="60.5" x2="112.2" y2="58.2" stroke="#9b9b9b" stroke-width="0.8"/>
<line x1="137.8" y1="60.5" x2="137.8" y2="58.2" stroke="#9b9b9b" stroke-width="0.8"/>
<line x1="29.3" y1="32.47" x2="29.3" y2="30.17" stroke="#9b9b9b" stroke-width="0.8"/>
<line x1="31.46" y1="34.3" x2="31.46" y2="32" stroke="#9b9b9b" stroke-width="0.8"/>
<line x1="35.66" y1="37.78" x2="35.66" y2="35.48" stroke="#9b9b9b" stroke-width="0.8"/>
<line x1="39.4" y1="40.59" x2="39.4" y2="38.29" stroke="#9b9b9b" stroke-width="0.8"/>
<line x1="45.06" y1="42.58" x2="45.06" y2="40.28" stroke="#9b9b9b" stroke-width="0.8"/>
<line x1="49.68" y1="43.82" x2="49.68" y2="41.52" stroke="#9b9b9b" stroke-width="0.8"/>
<line x1="52.62" y1="44.71" x2="52.62" y2="42.41" stroke="#9b9b9b" stroke-width="0.8"/>
<line x1="54.95" y1="45.39" x2="54.95" y2="43.09" stroke="#9b9b9b" stroke-width="0.8"/>
<line x1="60.05" y1="46.94" x2="60.05" y2="44.64" stroke="#9b9b9b" stroke-width="0.8"/>
<line x1="64.11" y1="48.37" x2="64.11" y2="46.07" stroke="#9b9b9b" stroke-width="0.8"/>
<line x1="69.22" y1="49.18" x2="69.22" y2="46.88" stroke="#9b9b9b" stroke-width="0.8"/>
<line x1="74.8" y1="53.02" x2="74.8" y2="50.72" stroke="#9b9b9b" stroke-width="0.8"/>
<line x1="79.07" y1="53.97" x2="79.07" y2="51.67" stroke="#9b9b9b" stroke-width="0.8"/>
<line x1="84.24" y1="57.35" x2="84.24" y2="55.05" stroke="#9b9b9b" stroke-width="0.8"/>
<line x1="86.78" y1="57.46" x2="86.78" y2="55.16" stroke="#9b9b9b" stroke-width="0.8"/>
<polyline points="23.3,26.5 23.95,26.5 23.95,27.55 25.25,27.55 25.25,28.6 25.9,28.6 26.7,28.6 26.7,30.2 28.3,30.2 28.3,31.8 29.1,31.8 30.08,31.8 30.08,33.45 32.03,33.45 32.03,35.1 33,35.1 33.98,35.1 33.98,36.7 35.92,36.7 35.92,38.3 36.9,38.3 37.67,38.3 37.67,39.4 39.2,39.4 39.2,40.5 40.73,40.5 40.73,41.6 41.5,41.6 42.25,41.6 42.25,41.8 43.75,41.8 43.75,42 45.25,42 45.25,42.2 46,42.2 46.83,42.2 46.83,42.7 48.48,42.7 48.48,43.2 50.12,43.2 50.12,43.7 51.77,43.7 51.77,44.2 52.6,44.2 53.41,44.2 53.41,44.68 55.04,44.68 55.04,45.15 56.66,45.15 56.66,45.63 58.29,45.63 58.29,46.1 59.1,46.1 59.8,46.1 59.8,46.6 61.2,46.6 61.2,47.1 62.6,47.1 62.6,47.6 63.3,47.6 63.97,47.6 63.97,48.05 65.32,48.05 65.32,48.5 66,48.5 71.5,48.8 72,48.8 72,50.8 72.5,50.8 73.1,50.8 73.1,51.7 74.3,51.7 74.3,52.6 74.9,52.6 75.7,52.6 75.7,52.93 77.3,52.93 77.3,53.27 78.9,53.27 78.9,53.6 79.7,53.6 79.88,53.6 79.88,55.15 80.22,55.15 80.22,56.7 80.4,56.7 87.9,57 88.25,57 88.25,58.5 88.95,58.5 88.95,60 89.3,60 137.8,60" fill="none" stroke="#9b9b9b" stroke-width="1.2" stroke-linejoin="miter" />
<line x1="69.1" y1="99.78" x2="69.1" y2="97.5" stroke="#151515" stroke-width="0.8"/>
<line x1="74.1" y1="99.78" x2="74.1" y2="97.5" stroke="#151515" stroke-width="0.8"/>
<line x1="83.2" y1="99.78" x2="83.2" y2="97.5" stroke="#151515" stroke-width="0.8"/>
<polyline points="23.3,26.5 24.1,26.5 24.1,28.5 25.7,28.5 25.7,30.5 26.5,30.5 27,30.5 27,32.45 28,32.45 28,34.4 28.5,34.4 28.73,34.4 28.73,36.35 29.18,36.35 29.18,38.3 29.4,38.3 29.5,38.3 29.5,39.86 29.7,39.86 29.7,41.42 29.9,41.42 29.9,42.98 30.1,42.98 30.1,44.54 30.3,44.54 30.3,46.1 30.4,46.1 30.56,46.1 30.56,47.73 30.89,47.73 30.89,49.35 31.21,49.35 31.21,50.98 31.54,50.98 31.54,52.6 31.7,52.6 31.78,52.6 31.78,54.08 31.94,54.08 31.94,55.56 32.1,55.56 32.1,57.04 32.26,57.04 32.26,58.52 32.42,58.52 32.42,60 32.5,60 32.75,60 32.75,61.5 33.25,61.5 33.25,63 33.5,63 34,63 34,64.5 35,64.5 35,66 35.5,66 35.88,66 35.88,67.53 36.65,67.53 36.65,69.07 37.42,69.07 37.42,70.6 37.8,70.6 38.18,70.6 38.18,72.1 38.95,72.1 38.95,73.6 39.72,73.6 39.72,75.1 40.1,75.1 40.45,75.1 40.45,77.4 40.8,77.4 41.75,77.4 41.75,78.15 43.65,78.15 43.65,78.9 44.6,78.9 45.35,78.9 45.35,80.4 46.1,80.4 46.85,80.4 46.85,82.6 47.6,82.6 48.35,82.6 48.35,84.9 49.1,84.9 54.4,84.9 55.15,84.9 55.15,87.2 55.9,87.2 56.65,87.2 56.65,88.7 57.4,88.7 58.55,88.7 58.55,89.4 59.7,89.4 60.45,89.4 60.45,90.2 61.2,90.2 61.32,90.2 61.32,91.7 61.55,91.7 61.55,93.2 61.78,93.2 61.78,94.7 61.9,94.7 62,94.7 62,96.23 62.2,96.23 62.2,97.77 62.4,97.77 62.4,99.3 62.5,99.3 83.2,99.3" fill="none" stroke="#151515" stroke-width="1.15" stroke-linejoin="miter" />
<text x="89.4" y="51.59" font-size="6.4" font-weight="bold" fill="#505050" text-anchor="start" stroke="#505050" stroke-width="0.25">All others (n=188)</text>
<text x="89.8" y="100.99" font-size="6.4" font-weight="bold" fill="#000" text-anchor="start" stroke="#000" stroke-width="0.25">MYC+BCL2+ (<tspan font-style="italic">n</tspan>=53)</text>
<text transform="translate(34,114.66) scale(0.94,1)" font-size="6.6" font-weight="bold" fill="#000" text-anchor="start" stroke="#000" stroke-width="0.25">p&lt;.0001</text>
<line x1="255.5" y1="61.9" x2="255.5" y2="59.6" stroke="#9b9b9b" stroke-width="0.8"/>
<line x1="257" y1="61.9" x2="257" y2="59.6" stroke="#9b9b9b" stroke-width="0.8"/>
<line x1="258.75" y1="61.9" x2="258.75" y2="59.6" stroke="#9b9b9b" stroke-width="0.8"/>
<line x1="265.5" y1="61.9" x2="265.5" y2="59.6" stroke="#9b9b9b" stroke-width="0.8"/>
<line x1="277.5" y1="61.9" x2="277.5" y2="59.6" stroke="#9b9b9b" stroke-width="0.8"/>
<line x1="302.5" y1="61.9" x2="302.5" y2="59.6" stroke="#9b9b9b" stroke-width="0.8"/>
<line x1="193.7" y1="32.85" x2="193.7" y2="30.55" stroke="#9b9b9b" stroke-width="0.8"/>
<line x1="198.47" y1="37.77" x2="198.47" y2="35.47" stroke="#9b9b9b" stroke-width="0.8"/>
<line x1="201.2" y1="40.43" x2="201.2" y2="38.13" stroke="#9b9b9b" stroke-width="0.8"/>
<line x1="204.37" y1="42.78" x2="204.37" y2="40.48" stroke="#9b9b9b" stroke-width="0.8"/>
<line x1="209.85" y1="44.91" x2="209.85" y2="42.61" stroke="#9b9b9b" stroke-width="0.8"/>
<line x1="215.81" y1="46.52" x2="215.81" y2="44.22" stroke="#9b9b9b" stroke-width="0.8"/>
<line x1="219.62" y1="47.66" x2="219.62" y2="45.36" stroke="#9b9b9b" stroke-width="0.8"/>
<line x1="224.72" y1="49.38" x2="224.72" y2="47.08" stroke="#9b9b9b" stroke-width="0.8"/>
<line x1="230.35" y1="51.33" x2="230.35" y2="49.03" stroke="#9b9b9b" stroke-width="0.8"/>
<line x1="235.21" y1="52.5" x2="235.21" y2="50.2" stroke="#9b9b9b" stroke-width="0.8"/>
<line x1="238.97" y1="54.64" x2="238.97" y2="52.34" stroke="#9b9b9b" stroke-width="0.8"/>
<line x1="241.06" y1="55.41" x2="241.06" y2="53.11" stroke="#9b9b9b" stroke-width="0.8"/>
<line x1="243.85" y1="55.79" x2="243.85" y2="53.49" stroke="#9b9b9b" stroke-width="0.8"/>
<line x1="247.31" y1="58.53" x2="247.31" y2="56.23" stroke="#9b9b9b" stroke-width="0.8"/>
<line x1="249.62" y1="58.67" x2="249.62" y2="56.37" stroke="#9b9b9b" stroke-width="0.8"/>
<polyline points="187.7,26.5 188.52,26.5 188.52,27.75 190.17,27.75 190.17,29 191,29 191.55,29 191.55,30.37 192.65,30.37 192.65,31.73 193.75,31.73 193.75,33.1 194.3,33.1 195.12,33.1 195.12,34.75 196.77,34.75 196.77,36.4 197.6,36.4 198.43,36.4 198.43,38.05 200.08,38.05 200.08,39.7 200.9,39.7 201.72,39.7 201.72,40.95 203.38,40.95 203.38,42.2 204.2,42.2 205.02,42.2 205.02,43 206.67,43 206.67,43.8 207.5,43.8 208.32,43.8 208.32,44.22 209.97,44.22 209.97,44.65 211.62,44.65 211.62,45.07 213.28,45.07 213.28,45.5 214.1,45.5 214.93,45.5 214.93,46 216.59,46 216.59,46.5 218.25,46.5 218.25,47 219.91,47 219.91,47.5 221.57,47.5 221.57,48 222.4,48 223.22,48 223.22,48.62 224.88,48.62 224.88,49.25 226.53,49.25 226.53,49.88 228.18,49.88 228.18,50.5 229,50.5 229.82,50.5 229.82,50.9 231.47,50.9 231.47,51.3 233.12,51.3 233.12,51.7 234.78,51.7 234.78,52.1 235.6,52.1 236.75,52.1 236.75,53.6 237.9,53.6 238.5,53.6 238.5,54.2 239.7,54.2 239.7,54.8 240.3,54.8 241.02,54.8 241.02,55 242.45,55 242.45,55.2 243.88,55.2 243.88,55.4 244.6,55.4 244.78,55.4 244.78,56.65 245.12,56.65 245.12,57.9 245.3,57.9 246.1,57.9 246.1,58 247.7,58 247.7,58.1 249.3,58.1 249.3,58.2 250.9,58.2 250.9,58.3 252.5,58.3 252.5,58.4 253.3,58.4 253.48,58.4 253.48,59.9 253.83,59.9 253.83,61.4 254,61.4 302.5,61.4" fill="none" stroke="#9b9b9b" stroke-width="1.2" stroke-linejoin="miter" />
<line x1="234" y1="99.78" x2="234" y2="97.5" stroke="#151515" stroke-width="0.8"/>
<line x1="238.9" y1="99.78" x2="238.9" y2="97.5" stroke="#151515" stroke-width="0.8"/>
<line x1="247.2" y1="99.78" x2="247.2" y2="97.5" stroke="#151515" stroke-width="0.8"/>
<polyline points="187.7,26.5 188.1,26.5 188.1,27.87 188.9,27.87 188.9,29.23 189.7,29.23 189.7,30.6 190.1,30.6 190.38,30.6 190.38,32.27 190.95,32.27 190.95,33.93 191.52,33.93 191.52,35.6 191.8,35.6 192,35.6 192,37.25 192.4,37.25 192.4,38.9 192.8,38.9 192.8,40.55 193.2,40.55 193.2,42.2 193.4,42.2 193.55,42.2 193.55,43.85 193.85,43.85 193.85,45.5 194.15,45.5 194.15,47.15 194.45,47.15 194.45,48.8 194.6,48.8 194.76,48.8 194.76,50.45 195.09,50.45 195.09,52.1 195.41,52.1 195.41,53.75 195.74,53.75 195.74,55.4 195.9,55.4 196,55.4 196,56.93 196.2,56.93 196.2,58.47 196.4,58.47 196.4,60 196.5,60 196.81,60 196.81,61.5 197.44,61.5 197.44,63 198.06,63 198.06,64.5 198.69,64.5 198.69,66 199,66 199.75,66 199.75,67.9 201.25,67.9 201.25,69.8 202,69.8 202.38,69.8 202.38,71.3 203.15,71.3 203.15,72.8 203.92,72.8 203.92,74.3 204.3,74.3 204.68,74.3 204.68,75.85 205.43,75.85 205.43,77.4 205.8,77.4 206.95,77.4 206.95,78.1 208.1,78.1 208.85,78.1 208.85,79.6 209.6,79.6 210.35,79.6 210.35,81.1 211.1,81.1 211.47,81.1 211.47,83 212.22,83 212.22,84.9 212.6,84.9 213.35,84.9 213.35,86.4 214.1,86.4 215.05,86.4 215.05,86.8 216.95,86.8 216.95,87.2 217.9,87.2 218.65,87.2 218.65,88.7 219.4,88.7 220.15,88.7 220.15,88.93 221.65,88.93 221.65,89.17 223.15,89.17 223.15,89.4 223.9,89.4 224.65,89.4 224.65,90.2 225.4,90.2 225.53,90.2 225.53,91.7 225.8,91.7 225.8,93.2 226.07,93.2 226.07,94.7 226.2,94.7 226.28,94.7 226.28,96.23 226.45,96.23 226.45,97.77 226.62,97.77 226.62,99.3 226.7,99.3 247.2,99.3" fill="none" stroke="#151515" stroke-width="1.15" stroke-linejoin="miter" />
<text x="254.3" y="52.29" font-size="6.4" font-weight="bold" fill="#505050" text-anchor="start" stroke="#505050" stroke-width="0.25">All others (n=188)</text>
<text x="254.3" y="101.29" font-size="6.4" font-weight="bold" fill="#000" text-anchor="start" stroke="#000" stroke-width="0.25">MYC+BCL2+ (<tspan font-style="italic">n</tspan>=53)</text>
<text transform="translate(198.6,114.66) scale(0.94,1)" font-size="6.6" font-weight="bold" fill="#000" text-anchor="start" stroke="#000" stroke-width="0.25">p&lt;.0001</text>
<line x1="459.7" y1="86" x2="459.7" y2="83.7" stroke="#9b9b9b" stroke-width="0.8"/>
<line x1="375.7" y1="35.19" x2="375.7" y2="32.89" stroke="#9b9b9b" stroke-width="0.8"/>
<line x1="378.38" y1="38.18" x2="378.38" y2="35.88" stroke="#9b9b9b" stroke-width="0.8"/>
<line x1="380.79" y1="40.01" x2="380.79" y2="37.71" stroke="#9b9b9b" stroke-width="0.8"/>
<line x1="384.21" y1="41.75" x2="384.21" y2="39.45" stroke="#9b9b9b" stroke-width="0.8"/>
<line x1="387.94" y1="43.55" x2="387.94" y2="41.25" stroke="#9b9b9b" stroke-width="0.8"/>
<line x1="390.67" y1="44.7" x2="390.67" y2="42.4" stroke="#9b9b9b" stroke-width="0.8"/>
<line x1="394.33" y1="45.94" x2="394.33" y2="43.64" stroke="#9b9b9b" stroke-width="0.8"/>
<line x1="398.77" y1="47.62" x2="398.77" y2="45.32" stroke="#9b9b9b" stroke-width="0.8"/>
<line x1="400.91" y1="48.43" x2="400.91" y2="46.13" stroke="#9b9b9b" stroke-width="0.8"/>
<line x1="406.84" y1="49.2" x2="406.84" y2="46.9" stroke="#9b9b9b" stroke-width="0.8"/>
<line x1="410.32" y1="50.65" x2="410.32" y2="48.35" stroke="#9b9b9b" stroke-width="0.8"/>
<line x1="413.17" y1="53.4" x2="413.17" y2="51.1" stroke="#9b9b9b" stroke-width="0.8"/>
<line x1="418.22" y1="53.4" x2="418.22" y2="51.1" stroke="#9b9b9b" stroke-width="0.8"/>
<line x1="421.33" y1="56.19" x2="421.33" y2="53.89" stroke="#9b9b9b" stroke-width="0.8"/>
<line x1="423.81" y1="58.21" x2="423.81" y2="55.91" stroke="#9b9b9b" stroke-width="0.8"/>
<line x1="426.85" y1="60.1" x2="426.85" y2="57.8" stroke="#9b9b9b" stroke-width="0.8"/>
<line x1="432.5" y1="62.91" x2="432.5" y2="60.61" stroke="#9b9b9b" stroke-width="0.8"/>
<line x1="438.49" y1="70.34" x2="438.49" y2="68.04" stroke="#9b9b9b" stroke-width="0.8"/>
<line x1="443.9" y1="70.48" x2="443.9" y2="68.18" stroke="#9b9b9b" stroke-width="0.8"/>
<line x1="446.31" y1="76.3" x2="446.31" y2="74" stroke="#9b9b9b" stroke-width="0.8"/>
<line x1="449.89" y1="76.3" x2="449.89" y2="74" stroke="#9b9b9b" stroke-width="0.8"/>
<polyline points="369.7,26.5 370.25,26.5 370.25,27.87 371.35,27.87 371.35,29.23 372.45,29.23 372.45,30.6 373,30.6 373.55,30.6 373.55,32.27 374.65,32.27 374.65,33.93 375.75,33.93 375.75,35.6 376.3,35.6 377.12,35.6 377.12,37.25 378.77,37.25 378.77,38.9 379.6,38.9 380.42,38.9 380.42,39.73 382.05,39.73 382.05,40.57 383.68,40.57 383.68,41.4 384.5,41.4 385.33,41.4 385.33,42.2 387,42.2 387,43 388.67,43 388.67,43.8 389.5,43.8 390.33,43.8 390.33,44.37 392,44.37 392,44.93 393.67,44.93 393.67,45.5 394.5,45.5 395.32,45.5 395.32,46.12 396.98,46.12 396.98,46.75 398.62,46.75 398.62,47.38 400.27,47.38 400.27,48 401.1,48 401.93,48 401.93,48.2 403.57,48.2 403.57,48.4 405.22,48.4 405.22,48.6 406.87,48.6 406.87,48.8 407.7,48.8 408.52,48.8 408.52,49.65 410.17,49.65 410.17,50.5 411,50.5 411.3,50.5 411.3,52.9 411.6,52.9 419.3,52.9 419.7,52.9 419.7,54.15 420.5,54.15 420.5,55.4 420.9,55.4 421.52,55.4 421.52,56.25 422.77,56.25 422.77,57.1 423.4,57.1 423.82,57.1 423.82,58.35 424.68,58.35 424.68,59.6 425.1,59.6 427.5,59.6 427.73,59.6 427.73,60.95 428.18,60.95 428.18,62.3 428.4,62.3 435.8,62.5 435.9,62.5 435.9,63.96 436.1,63.96 436.1,65.42 436.3,65.42 436.3,66.88 436.5,66.88 436.5,68.34 436.7,68.34 436.7,69.8 436.8,69.8 444.5,70 444.8,75.8 450.8,75.8 450.84,75.8 450.84,77.42 450.93,77.42 450.93,79.03 451.01,79.03 451.01,80.65 451.09,80.65 451.09,82.27 451.17,82.27 451.17,83.88 451.26,83.88 451.26,85.5 451.3,85.5 459.7,85.5" fill="none" stroke="#9b9b9b" stroke-width="1.2" stroke-linejoin="miter" />
<line x1="400" y1="77.38" x2="400" y2="75.1" stroke="#151515" stroke-width="0.8"/>
<line x1="413" y1="91.95" x2="413" y2="89.67" stroke="#151515" stroke-width="0.8"/>
<line x1="435.1" y1="112.08" x2="435.1" y2="109.8" stroke="#151515" stroke-width="0.8"/>
<polyline points="369.7,26.5 370.1,26.5 370.1,27.3 370.5,27.3 370.91,27.3 370.91,28.96 371.73,28.96 371.73,30.62 372.55,30.62 372.55,32.28 373.37,32.28 373.37,33.94 374.19,33.94 374.19,35.6 374.6,35.6 375.01,35.6 375.01,37.25 375.84,37.25 375.84,38.9 376.66,38.9 376.66,40.55 377.49,40.55 377.49,42.2 377.9,42.2 378.18,42.2 378.18,43.87 378.75,43.87 378.75,45.53 379.32,45.53 379.32,47.2 379.6,47.2 379.85,47.2 379.85,48.84 380.35,48.84 380.35,50.48 380.85,50.48 380.85,52.12 381.35,52.12 381.35,53.76 381.85,53.76 381.85,55.4 382.1,55.4 382.4,55.4 382.4,57.05 383,57.05 383,58.7 383.6,58.7 383.6,60.35 384.2,60.35 384.2,62 384.5,62 384.78,62 384.78,63.67 385.35,63.67 385.35,65.33 385.92,65.33 385.92,67 386.2,67 386.62,67 386.62,68.53 387.45,68.53 387.45,70.07 388.28,70.07 388.28,71.6 388.7,71.6 389.52,71.6 389.52,72.85 391.17,72.85 391.17,74.1 392,74.1 392.75,74.1 392.75,74.75 394.25,74.75 394.25,75.4 395,75.4 396.15,75.4 396.15,76.9 397.3,76.9 400.4,76.9 400.8,76.9 400.8,78.5 401.2,78.5 401.77,78.5 401.77,80.4 402.92,80.4 402.92,82.3 403.5,82.3 403.88,82.3 403.88,83.85 404.62,83.85 404.62,85.4 405,85.4 405.23,85.4 405.23,86.93 405.7,86.93 405.7,88.47 406.17,88.47 406.17,90 406.4,90 407.4,90 407.4,90.4 409.4,90.4 409.4,90.8 410.4,90.8 411.17,90.8 411.17,91.2 412.72,91.2 412.72,91.6 413.5,91.6 414.25,91.6 414.25,93.1 415,93.1 415.35,93.1 415.35,95.05 416.05,95.05 416.05,97 416.4,97 417.2,97 417.2,97.23 418.8,97.23 418.8,97.47 420.4,97.47 420.4,97.7 421.2,97.7 421.52,97.7 421.52,99.25 422.17,99.25 422.17,100.8 422.5,100.8 427.4,100.8 428.15,100.8 428.15,102.4 428.9,102.4 429,102.4 429,103.93 429.2,103.93 429.2,105.47 429.4,105.47 429.4,107 429.5,107 430.12,107 430.12,107.75 431.38,107.75 431.38,108.5 432,108.5 432.12,108.5 432.12,110.05 432.38,110.05 432.38,111.6 432.5,111.6 435.1,111.6" fill="none" stroke="#151515" stroke-width="1.15" stroke-linejoin="miter" />
<text x="439.4" y="57.79" font-size="6.4" font-weight="bold" fill="#505050" text-anchor="start" stroke="#505050" stroke-width="0.25">All others (n=121)</text>
<text x="439.6" y="110.29" font-size="6.4" font-weight="bold" fill="#000" text-anchor="start" stroke="#000" stroke-width="0.25">MYC+BCL2+ (<tspan font-style="italic">n</tspan>=104)</text>
<text transform="translate(380.5,114.76) scale(0.94,1)" font-size="6.6" font-weight="bold" fill="#000" text-anchor="start" stroke="#000" stroke-width="0.25">p&lt;.0001</text>
<line x1="112.8" y1="240.4" x2="112.8" y2="238.1" stroke="#9b9b9b" stroke-width="0.8"/>
<line x1="29.7" y1="183.08" x2="29.7" y2="180.78" stroke="#9b9b9b" stroke-width="0.8"/>
<line x1="32.29" y1="187.77" x2="32.29" y2="185.47" stroke="#9b9b9b" stroke-width="0.8"/>
<line x1="38.11" y1="191.13" x2="38.11" y2="188.83" stroke="#9b9b9b" stroke-width="0.8"/>
<line x1="40.18" y1="191.85" x2="40.18" y2="189.55" stroke="#9b9b9b" stroke-width="0.8"/>
<line x1="43.5" y1="192.93" x2="43.5" y2="190.63" stroke="#9b9b9b" stroke-width="0.8"/>
<line x1="49.45" y1="194.86" x2="49.45" y2="192.56" stroke="#9b9b9b" stroke-width="0.8"/>
<line x1="54.14" y1="195.79" x2="54.14" y2="193.49" stroke="#9b9b9b" stroke-width="0.8"/>
<line x1="57.99" y1="196.46" x2="57.99" y2="194.16" stroke="#9b9b9b" stroke-width="0.8"/>
<line x1="60.77" y1="197.37" x2="60.77" y2="195.07" stroke="#9b9b9b" stroke-width="0.8"/>
<line x1="63.41" y1="198.66" x2="63.41" y2="196.36" stroke="#9b9b9b" stroke-width="0.8"/>
<line x1="65.61" y1="199.49" x2="65.61" y2="197.19" stroke="#9b9b9b" stroke-width="0.8"/>
<line x1="71.17" y1="200.71" x2="71.17" y2="198.41" stroke="#9b9b9b" stroke-width="0.8"/>
<line x1="76.5" y1="205.3" x2="76.5" y2="203" stroke="#9b9b9b" stroke-width="0.8"/>
<line x1="81.22" y1="209.08" x2="81.22" y2="206.78" stroke="#9b9b9b" stroke-width="0.8"/>
<line x1="83.62" y1="209.63" x2="83.62" y2="207.33" stroke="#9b9b9b" stroke-width="0.8"/>
<line x1="86.25" y1="209.79" x2="86.25" y2="207.49" stroke="#9b9b9b" stroke-width="0.8"/>
<line x1="90.49" y1="223.4" x2="90.49" y2="221.1" stroke="#9b9b9b" stroke-width="0.8"/>
<line x1="94.35" y1="223.61" x2="94.35" y2="221.31" stroke="#9b9b9b" stroke-width="0.8"/>
<line x1="99.22" y1="228.8" x2="99.22" y2="226.5" stroke="#9b9b9b" stroke-width="0.8"/>
<line x1="104.99" y1="228.8" x2="104.99" y2="226.5" stroke="#9b9b9b" stroke-width="0.8"/>
<polyline points="23.7,173.5 26.9,173.5 27.1,177.4 27.48,177.4 27.48,178.7 28.23,178.7 28.23,180 28.6,180 28.98,180 28.98,181.8 29.75,181.8 29.75,183.6 30.52,183.6 30.52,185.4 30.9,185.4 31.48,185.4 31.48,186.95 32.62,186.95 32.62,188.5 33.2,188.5 33.98,188.5 33.98,189.25 35.52,189.25 35.52,190 36.3,190 37.07,190 37.07,190.53 38.6,190.53 38.6,191.07 40.13,191.07 40.13,191.6 40.9,191.6 41.68,191.6 41.68,192.1 43.25,192.1 43.25,192.6 44.82,192.6 44.82,193.1 45.6,193.1 46.37,193.1 46.37,193.6 47.9,193.6 47.9,194.1 49.43,194.1 49.43,194.6 50.2,194.6 50.97,194.6 50.97,194.87 52.5,194.87 52.5,195.13 54.03,195.13 54.03,195.4 54.8,195.4 55.57,195.4 55.57,195.67 57.1,195.67 57.1,195.93 58.63,195.93 58.63,196.2 59.4,196.2 60.18,196.2 60.18,196.97 61.75,196.97 61.75,197.73 63.32,197.73 63.32,198.5 64.1,198.5 64.87,198.5 64.87,199 66.4,199 66.4,199.5 67.93,199.5 67.93,200 68.7,200 69.47,200 69.47,200.13 71,200.13 71,200.27 72.53,200.27 72.53,200.4 73.3,200.4 73.7,200.4 73.7,201.8 74.5,201.8 74.5,203.2 74.9,203.2 75.53,203.2 75.53,204.45 76.78,204.45 76.78,205.7 77.4,205.7 78.03,205.7 78.03,206.15 79.28,206.15 79.28,206.6 79.9,206.6 80.3,206.6 80.3,207.8 81.1,207.8 81.1,209 81.5,209 82.33,209 82.33,209.1 83.99,209.1 83.99,209.2 85.65,209.2 85.65,209.3 87.31,209.3 87.31,209.4 88.97,209.4 88.97,209.5 89.8,209.5 89.84,209.5 89.84,211.18 89.91,211.18 89.91,212.85 89.99,212.85 89.99,214.53 90.06,214.53 90.06,216.2 90.14,216.2 90.14,217.88 90.21,217.88 90.21,219.55 90.29,219.55 90.29,221.23 90.36,221.23 90.36,222.9 90.4,222.9 91.17,222.9 91.17,222.98 92.71,222.98 92.71,223.06 94.25,223.06 94.25,223.14 95.79,223.14 95.79,223.22 97.33,223.22 97.33,223.3 98.1,223.3 98.2,223.3 98.2,224.97 98.4,224.97 98.4,226.63 98.6,226.63 98.6,228.3 98.7,228.3 105.4,228.3 105.44,228.3 105.44,229.96 105.53,229.96 105.53,231.61 105.61,231.61 105.61,233.27 105.7,233.27 105.7,234.93 105.79,234.93 105.79,236.59 105.87,236.59 105.87,238.24 105.96,238.24 105.96,239.9 106,239.9 112.8,239.9" fill="none" stroke="#9b9b9b" stroke-width="1.2" stroke-linejoin="miter" />
<line x1="89.7" y1="260.17" x2="89.7" y2="257.9" stroke="#151515" stroke-width="0.8"/>
<polyline points="23.7,173.5 23.9,173.5 23.9,174.75 24.3,174.75 24.3,176 24.5,176 24.75,176 24.75,178 25.25,178 25.25,180 25.5,180 25.77,180 25.77,181.53 26.3,181.53 26.3,183.07 26.83,183.07 26.83,184.6 27.1,184.6 27.29,184.6 27.29,186.15 27.66,186.15 27.66,187.7 28.04,187.7 28.04,189.25 28.41,189.25 28.41,190.8 28.6,190.8 28.77,190.8 28.77,192.2 29.1,192.2 29.1,193.6 29.43,193.6 29.43,195 29.6,195 29.98,195 29.98,196.55 30.73,196.55 30.73,198.1 31.1,198.1 31.5,198.1 31.5,199.65 32.3,199.65 32.3,201.2 32.7,201.2 32.83,201.2 32.83,203 33.08,203 33.08,204.8 33.2,204.8 33.85,204.8 33.85,206.6 35.15,206.6 35.15,208.4 35.8,208.4 36.05,208.4 36.05,209.93 36.55,209.93 36.55,211.47 37.05,211.47 37.05,213 37.3,213 38.05,213 38.05,215 38.8,215 39.2,215 39.2,216.3 40,216.3 40,217.6 40.4,217.6 41.4,217.6 41.4,219.7 42.4,219.7 43.45,219.7 43.45,221.7 44.5,221.7 45.55,221.7 45.55,223.8 46.6,223.8 47.47,223.8 47.47,224.53 49.2,224.53 49.2,225.27 50.93,225.27 50.93,226 51.8,226 52.4,226 52.4,226.85 53.6,226.85 53.6,227.7 54.2,227.7 54.62,227.7 54.62,228.95 55.47,228.95 55.47,230.2 55.9,230.2 56.18,230.2 56.18,231.57 56.75,231.57 56.75,232.93 57.32,232.93 57.32,234.3 57.6,234.3 57.98,234.3 57.98,235.93 58.75,235.93 58.75,237.57 59.52,237.57 59.52,239.2 59.9,239.2 60.73,239.2 60.73,239.7 62.38,239.7 62.38,240.2 63.2,240.2 63.83,240.2 63.83,240.85 65.08,240.85 65.08,241.5 65.7,241.5 66.35,241.5 66.35,241.8 67.65,241.8 67.65,242.1 68.3,242.1 68.9,242.1 68.9,243.45 70.1,243.45 70.1,244.8 70.7,244.8 70.7,246.5 75.6,246.5 75.82,246.5 75.82,247.75 76.27,247.75 76.27,249 76.5,249 81.4,249 81.6,249 81.6,250.25 82,250.25 82,251.5 82.2,251.5 83.05,251.5 83.05,252.3 83.9,252.3 84.33,252.3 84.33,253.95 85.17,253.95 85.17,255.6 85.6,255.6 85.6,259.7 89.7,259.7" fill="none" stroke="#151515" stroke-width="1.15" stroke-linejoin="miter" />
<text x="93.6" y="207.79" font-size="6.4" font-weight="bold" fill="#505050" text-anchor="start" stroke="#505050" stroke-width="0.25">All others (n=121)</text>
<text x="93.6" y="259.49" font-size="6.4" font-weight="bold" fill="#000" text-anchor="start" stroke="#000" stroke-width="0.25">MYC+BCL2+ (<tspan font-style="italic">n</tspan>=104)</text>
<text transform="translate(33.9,261.86) scale(0.94,1)" font-size="6.6" font-weight="bold" fill="#000" text-anchor="start" stroke="#000" stroke-width="0.25">p&lt;.0001</text>
<polyline points="188.5,172.5 189.1,172.7 189.88,172.7 189.88,173.45 191.43,173.45 191.43,174.2 192.2,174.2 192.9,174.2 192.9,174.73 194.3,174.73 194.3,175.27 195.7,175.27 195.7,175.8 196.4,175.8 197.27,175.8 197.27,176.5 199,176.5 199,177.2 200.73,177.2 200.73,177.9 201.6,177.9 202.47,177.9 202.47,178.77 204.2,178.77 204.2,179.63 205.93,179.63 205.93,180.5 206.8,180.5 207.67,180.5 207.67,180.73 209.4,180.73 209.4,180.97 211.13,180.97 211.13,181.2 212,181.2 212.87,181.2 212.87,181.53 214.6,181.53 214.6,181.87 216.33,181.87 216.33,182.2 217.2,182.2 218.05,182.2 218.05,182.57 219.75,182.57 219.75,182.93 221.45,182.93 221.45,183.3 222.3,183.3 223.17,183.3 223.17,183.63 224.9,183.63 224.9,183.97 226.63,183.97 226.63,184.3 227.5,184.3 228.37,184.3 228.37,184.8 230.1,184.8 230.1,185.3 231.83,185.3 231.83,185.8 232.7,185.8 233.52,185.8 233.52,186.05 235.17,186.05 235.17,186.3 236,186.3 236.78,186.3 236.78,186.6 238.32,186.6 238.32,186.9 239.1,186.9 239.47,186.9 239.47,188.45 240.22,188.45 240.22,190 240.6,190 241.38,190 241.38,190.75 242.93,190.75 242.93,191.5 243.7,191.5 244.47,191.5 244.47,192.3 246.03,192.3 246.03,193.1 246.8,193.1 247.55,193.1 247.55,195.4 248.3,195.4" fill="none" stroke="#5e9de8" stroke-width="1.8" stroke-linejoin="miter" />
<line x1="277.7" y1="221" x2="277.7" y2="218.7" stroke="#74a2de" stroke-width="0.8"/>
<line x1="303.5" y1="221" x2="303.5" y2="218.7" stroke="#74a2de" stroke-width="0.8"/>
<polyline points="248.3,195.4 249.15,195.4 249.15,196.4 250,196.4 254.4,196.6 254.95,196.6 254.95,198.6 255.5,198.6 255.56,198.6 255.56,200.38 255.69,200.38 255.69,202.15 255.81,202.15 255.81,203.93 255.94,203.93 255.94,205.7 256,205.7 256.82,205.7 256.82,205.82 258.48,205.82 258.48,205.95 260.12,205.95 260.12,206.07 261.77,206.07 261.77,206.2 262.6,206.2 263.15,206.2 263.15,208.4 263.7,208.4 263.7,212.3 269.7,212.3 269.76,212.3 269.76,213.94 269.88,213.94 269.88,215.58 270,215.58 270,217.22 270.12,217.22 270.12,218.86 270.24,218.86 270.24,220.5 270.3,220.5 303.5,220.5" fill="none" stroke="#74a2de" stroke-width="1.2" stroke-linejoin="miter" />
<line x1="240.5" y1="224.35" x2="240.5" y2="222.2" stroke="#9a9a9a" stroke-width="0.8"/>
<line x1="242" y1="224.35" x2="242" y2="222.2" stroke="#9a9a9a" stroke-width="0.8"/>
<line x1="244" y1="224.35" x2="244" y2="222.2" stroke="#9a9a9a" stroke-width="0.8"/>
<line x1="248" y1="224.35" x2="248" y2="222.2" stroke="#9a9a9a" stroke-width="0.8"/>
<line x1="252" y1="224.35" x2="252" y2="222.2" stroke="#9a9a9a" stroke-width="0.8"/>
<line x1="256" y1="224.35" x2="256" y2="222.2" stroke="#9a9a9a" stroke-width="0.8"/>
<line x1="259" y1="224.35" x2="259" y2="222.2" stroke="#9a9a9a" stroke-width="0.8"/>
<line x1="261" y1="224.35" x2="261" y2="222.2" stroke="#9a9a9a" stroke-width="0.8"/>
<line x1="264" y1="224.35" x2="264" y2="222.2" stroke="#9a9a9a" stroke-width="0.8"/>
<line x1="268.7" y1="224.35" x2="268.7" y2="222.2" stroke="#9a9a9a" stroke-width="0.8"/>
<polyline points="188.5,172.5 189.12,172.5 189.12,173.75 189.75,173.75 189.96,173.75 189.96,175.17 190.38,175.17 190.38,176.58 190.79,176.58 190.79,178 191,178 191.4,178 191.4,180 192.2,180 192.2,182 192.6,182 192.9,182 192.9,183.5 193.5,183.5 193.5,185 194.1,185 194.1,186.5 194.7,186.5 194.7,188 195,188 195.31,188 195.31,189.5 195.94,189.5 195.94,191 196.56,191 196.56,192.5 197.19,192.5 197.19,194 197.5,194 198,194 198,195.75 199,195.75 199,197.5 199.5,197.5 200.25,197.5 200.25,199.5 201.75,199.5 201.75,201.5 202.5,201.5 203,201.5 203,202.93 204,202.93 204,204.37 205,204.37 205,205.8 205.5,205.8 206.25,205.8 206.25,207.3 207.75,207.3 207.75,208.8 208.5,208.8 209.3,208.8 209.3,209.73 210.9,209.73 210.9,210.67 212.5,210.67 212.5,211.6 213.3,211.6 214.03,211.6 214.03,212.43 215.47,212.43 215.47,213.25 216.92,213.25 216.92,214.07 218.37,214.07 218.37,214.9 219.1,214.9 219.72,214.9 219.72,215.75 220.97,215.75 220.97,216.6 221.6,216.6 222.28,216.6 222.28,216.87 223.65,216.87 223.65,217.13 225.02,217.13 225.02,217.4 225.7,217.4 226.32,217.4 226.32,218.65 227.57,218.65 227.57,219.9 228.2,219.9 228.92,219.9 228.92,220.1 230.38,220.1 230.38,220.3 231.82,220.3 231.82,220.5 233.27,220.5 233.27,220.7 234,220.7 234.82,220.7 234.82,221.1 236.47,221.1 236.47,221.5 237.3,221.5 237.48,221.5 237.48,222.75 237.83,222.75 237.83,224 238,224 268.7,224" fill="none" stroke="#9a9a9a" stroke-width="0.9" stroke-linejoin="miter" />
<line x1="254" y1="253.2" x2="254" y2="250.9" stroke="#3333b8" stroke-width="0.8"/>
<polyline points="188.5,172.5 189.3,172.5 189.3,173.9 190.9,173.9 190.9,175.3 191.7,175.3 191.93,175.3 191.93,176.87 192.4,176.87 192.4,178.43 192.87,178.43 192.87,180 193.1,180 193.41,180 193.41,181.64 194.03,181.64 194.03,183.28 194.65,183.28 194.65,184.92 195.27,184.92 195.27,186.56 195.89,186.56 195.89,188.2 196.2,188.2 196.59,188.2 196.59,189.75 197.36,189.75 197.36,191.3 198.14,191.3 198.14,192.85 198.91,192.85 198.91,194.4 199.3,194.4 199.69,194.4 199.69,195.95 200.46,195.95 200.46,197.5 201.24,197.5 201.24,199.05 202.01,199.05 202.01,200.6 202.4,200.6 202.79,200.6 202.79,202.12 203.56,202.12 203.56,203.65 204.34,203.65 204.34,205.18 205.11,205.18 205.11,206.7 205.5,206.7 206,206.7 206,208.25 207,208.25 207,209.8 207.5,209.8 208.35,209.8 208.35,211.6 209.2,211.6 209.88,211.6 209.88,212.17 211.25,212.17 211.25,212.73 212.62,212.73 212.62,213.3 213.3,213.3 214.12,213.3 214.12,214.5 215.77,214.5 215.77,215.7 216.6,215.7 220.7,215.7 220.85,215.7 220.85,217.1 221.15,217.1 221.15,218.5 221.45,218.5 221.45,219.9 221.6,219.9 222.43,219.9 222.43,221.55 224.08,221.55 224.08,223.2 224.9,223.2 225.5,223.2 225.5,224.85 226.7,224.85 226.7,226.5 227.3,226.5 227.93,226.5 227.93,227.35 229.18,227.35 229.18,228.2 229.8,228.2 230.62,228.2 230.62,228.4 232.27,228.4 232.27,228.6 233.1,228.6 236.4,228.8 239.1,229.1 239.8,229.1 239.8,230.5 240.5,230.5 240.6,230.5 240.6,232.07 240.8,232.07 240.8,233.63 241,233.63 241,235.2 241.1,235.2 247.3,235.2 247.38,235.2 247.38,236.86 247.54,236.86 247.54,238.52 247.7,238.52 247.7,240.18 247.86,240.18 247.86,241.84 248.02,241.84 248.02,243.5 248.1,243.5 249.25,243.5 249.25,244.5 250.4,244.5 250.45,244.5 250.45,246.14 250.55,246.14 250.55,247.78 250.65,247.78 250.65,249.42 250.75,249.42 250.75,251.06 250.85,251.06 250.85,252.7 250.9,252.7 254,252.7" fill="none" stroke="#3333b8" stroke-width="1.2" stroke-linejoin="miter" />
<line x1="239.7" y1="261.07" x2="239.7" y2="258.8" stroke="#151515" stroke-width="0.8"/>
<polyline points="188.5,172.5 189.12,172.5 189.12,173.75 189.75,173.75 189.86,173.75 189.86,175.31 190.07,175.31 190.07,176.88 190.28,176.88 190.28,178.44 190.49,178.44 190.49,180 190.6,180 190.91,180 190.91,181.55 191.54,181.55 191.54,183.1 192.16,183.1 192.16,184.65 192.79,184.65 192.79,186.2 193.1,186.2 193.42,186.2 193.42,187.72 194.07,187.72 194.07,189.25 194.72,189.25 194.72,190.78 195.38,190.78 195.38,192.3 195.7,192.3 195.96,192.3 195.96,194.1 196.49,194.1 196.49,195.9 197.01,195.9 197.01,197.7 197.54,197.7 197.54,199.5 197.8,199.5 197.88,199.5 197.88,200.87 198.05,200.87 198.05,202.23 198.22,202.23 198.22,203.6 198.3,203.6 198.55,203.6 198.55,205.15 199.05,205.15 199.05,206.7 199.3,206.7 199.55,206.7 199.55,208.25 200.05,208.25 200.05,209.8 200.3,209.8 200.45,209.8 200.45,211.55 200.75,211.55 200.75,213.3 200.9,213.3 201.17,213.3 201.17,214.93 201.7,214.93 201.7,216.57 202.23,216.57 202.23,218.2 202.5,218.2 202.81,218.2 202.81,219.85 203.44,219.85 203.44,221.5 204.06,221.5 204.06,223.15 204.69,223.15 204.69,224.8 205,224.8 205.4,224.8 205.4,226.15 206.2,226.15 206.2,227.5 206.6,227.5 207.43,227.5 207.43,228.75 209.08,228.75 209.08,230 209.9,230 210.53,230 210.53,230.8 211.78,230.8 211.78,231.6 212.4,231.6 213.22,231.6 213.22,232.45 214.88,232.45 214.88,233.3 215.7,233.3 216.38,233.3 216.38,233.57 217.75,233.57 217.75,233.83 219.12,233.83 219.12,234.1 219.8,234.1 220.23,234.1 220.23,235.35 221.08,235.35 221.08,236.6 221.5,236.6 222.12,236.6 222.12,237.85 223.38,237.85 223.38,239.1 224,239.1 224.13,239.1 224.13,240.47 224.4,240.47 224.4,241.83 224.67,241.83 224.67,243.2 224.8,243.2 225.08,243.2 225.08,244.87 225.65,244.87 225.65,246.53 226.22,246.53 226.22,248.2 226.5,248.2 227.32,248.2 227.32,248.47 228.95,248.47 228.95,248.73 230.58,248.73 230.58,249 231.4,249 232.22,249 232.22,249.8 233.88,249.8 233.88,250.6 234.7,250.6 234.76,250.6 234.76,252.27 234.88,252.27 234.88,253.93 234.99,253.93 234.99,255.6 235.11,255.6 235.11,257.27 235.23,257.27 235.23,258.93 235.34,258.93 235.34,260.6 235.4,260.6 239.7,260.6" fill="none" stroke="#151515" stroke-width="1.15" stroke-linejoin="miter" />
<text x="230.5" y="181.89" font-size="6.4" font-weight="bold" fill="#000" text-anchor="middle" stroke="#000" stroke-width="0.25">1</text>
<text x="230.5" y="215.09" font-size="6.4" font-weight="bold" fill="#000" text-anchor="middle" stroke="#000" stroke-width="0.25">3</text>
<text x="230.2" y="237.99" font-size="6.4" font-weight="bold" fill="#000" text-anchor="middle" stroke="#000" stroke-width="0.25">2</text>
<text x="230.4" y="259.99" font-size="6.4" font-weight="bold" fill="#000" text-anchor="middle" stroke="#000" stroke-width="0.25">4</text>
<text x="263.9" y="170.09" font-size="6.4" font-weight="bold" fill="#45a0ec" text-anchor="start" stroke="#45a0ec" stroke-width="0.25"><tspan fill="#4f7090" stroke="#4f7090">1.</tspan> IPI &#8804;2 Non-DP (n=193)</text>
<text x="263.9" y="177.89" font-size="6.4" font-weight="bold" fill="#262080" text-anchor="start" stroke="#262080" stroke-width="0.25">2. IPI &#8804;2 DP (n=70)</text>
<text x="263.9" y="189.39" font-size="6.4" font-weight="bold" fill="#8a8a8a" text-anchor="start" stroke="#8a8a8a" stroke-width="0.25">3. IPI &gt;2 Non-DP (n=81)</text>
<text x="263.9" y="196.79" font-size="6.4" font-weight="bold" fill="#000" text-anchor="start" stroke="#000" stroke-width="0.25">4. IPI &gt;2 DP (n=67)</text>
<text x="264.3" y="248.89" font-size="6.4" font-weight="bold" fill="#000" text-anchor="start" stroke="#000" stroke-width="0.25">1 vs 2: p&lt;.0001</text>
<text x="264.3" y="256.19" font-size="6.4" font-weight="bold" fill="#000" text-anchor="start" stroke="#000" stroke-width="0.25">3 vs 4: p=.0020</text>
<polyline points="370.5,172.5 371.1,172.7 371.8,172.7 371.8,173.2 373.2,173.2 373.2,173.7 374.6,173.7 374.6,174.2 375.3,174.2 375.8,174.2 375.8,175.75 376.8,175.75 376.8,177.3 377.3,177.3 378,177.3 378,177.87 379.4,177.87 379.4,178.43 380.8,178.43 380.8,179 381.5,179 382.37,179 382.37,179.5 384.1,179.5 384.1,180 385.83,180 385.83,180.5 386.7,180.5 387.57,180.5 387.57,181 389.3,181 389.3,181.5 391.03,181.5 391.03,182 391.9,182 392.77,182 392.77,182.43 394.5,182.43 394.5,182.87 396.23,182.87 396.23,183.3 397.1,183.3 397.97,183.3 397.97,183.8 399.7,183.8 399.7,184.3 401.43,184.3 401.43,184.8 402.3,184.8 403.17,184.8 403.17,185.3 404.9,185.3 404.9,185.8 406.63,185.8 406.63,186.3 407.5,186.3 408.37,186.3 408.37,186.8 410.1,186.8 410.1,187.3 411.83,187.3 411.83,187.8 412.7,187.8 413.58,187.8 413.58,188.13 415.35,188.13 415.35,188.47 417.12,188.47 417.12,188.8 418,188.8 418.77,188.8 418.77,189.5 420.32,189.5 420.32,190.2 421.1,190.2 421.88,190.2 421.88,191.6 423.42,191.6 423.42,193 424.2,193 425.35,193 425.35,193.8 426.5,193.8 427.07,193.8 427.07,195.3 428.23,195.3 428.23,196.8 428.8,196.8 429.55,196.8 429.55,198.4 430.3,198.4" fill="none" stroke="#5e9de8" stroke-width="1.8" stroke-linejoin="miter" />
<line x1="459.6" y1="227.8" x2="459.6" y2="225.5" stroke="#74a2de" stroke-width="0.8"/>
<line x1="485.3" y1="227.8" x2="485.3" y2="225.5" stroke="#74a2de" stroke-width="0.8"/>
<polyline points="430.3,198.4 435.7,198.4 436.35,198.4 436.35,199 437,199 437.06,199 437.06,200.56 437.19,200.56 437.19,202.12 437.31,202.12 437.31,203.69 437.44,203.69 437.44,205.25 437.56,205.25 437.56,206.81 437.69,206.81 437.69,208.38 437.81,208.38 437.81,209.94 437.94,209.94 437.94,211.5 438,211.5 438.77,211.5 438.77,211.73 440.3,211.73 440.3,211.97 441.83,211.97 441.83,212.2 442.6,212.2 443.75,212.2 443.75,213.8 444.9,213.8 445.03,213.8 445.03,215.6 445.3,215.6 445.3,217.4 445.57,217.4 445.57,219.2 445.7,219.2 451.8,219.2 452.2,219.2 452.2,220.5 452.6,220.5 452.9,227.3 485.3,227.3" fill="none" stroke="#74a2de" stroke-width="1.2" stroke-linejoin="miter" />
<line x1="421" y1="226.05" x2="421" y2="223.9" stroke="#9a9a9a" stroke-width="0.8"/>
<line x1="423" y1="226.05" x2="423" y2="223.9" stroke="#9a9a9a" stroke-width="0.8"/>
<line x1="425" y1="226.05" x2="425" y2="223.9" stroke="#9a9a9a" stroke-width="0.8"/>
<line x1="429" y1="226.05" x2="429" y2="223.9" stroke="#9a9a9a" stroke-width="0.8"/>
<line x1="434" y1="226.05" x2="434" y2="223.9" stroke="#9a9a9a" stroke-width="0.8"/>
<line x1="436" y1="226.05" x2="436" y2="223.9" stroke="#9a9a9a" stroke-width="0.8"/>
<line x1="440" y1="226.05" x2="440" y2="223.9" stroke="#9a9a9a" stroke-width="0.8"/>
<line x1="443" y1="226.05" x2="443" y2="223.9" stroke="#9a9a9a" stroke-width="0.8"/>
<line x1="446" y1="226.05" x2="446" y2="223.9" stroke="#9a9a9a" stroke-width="0.8"/>
<line x1="450.7" y1="226.05" x2="450.7" y2="223.9" stroke="#9a9a9a" stroke-width="0.8"/>
<polyline points="370.5,172.5 370.75,172.5 370.75,174.33 371.25,174.33 371.25,176.17 371.75,176.17 371.75,178 372,178 372.25,178 372.25,179.75 372.75,179.75 372.75,181.5 373.25,181.5 373.25,183.25 373.75,183.25 373.75,185 374,185 374.31,185 374.31,186.75 374.94,186.75 374.94,188.5 375.56,188.5 375.56,190.25 376.19,190.25 376.19,192 376.5,192 376.92,192 376.92,193.83 377.75,193.83 377.75,195.67 378.58,195.67 378.58,197.5 379,197.5 379.62,197.5 379.62,199.25 380.88,199.25 380.88,201 381.5,201 382.12,201 382.12,202.75 383.38,202.75 383.38,204.5 384,204.5 384.63,204.5 384.63,206.03 385.9,206.03 385.9,207.57 387.17,207.57 387.17,209.1 387.8,209.1 388.5,209.1 388.5,209.93 389.9,209.93 389.9,210.77 391.3,210.77 391.3,211.6 392,211.6 392.82,211.6 392.82,212.43 394.45,212.43 394.45,213.27 396.08,213.27 396.08,214.1 396.9,214.1 397.72,214.1 397.72,215.35 399.38,215.35 399.38,216.6 400.2,216.6 401.05,216.6 401.05,217 402.75,217 402.75,217.4 403.6,217.4 404.43,217.4 404.43,218.25 406.07,218.25 406.07,219.1 406.9,219.1 407.72,219.1 407.72,220.3 409.38,220.3 409.38,221.5 410.2,221.5 410.94,221.5 410.94,221.68 412.42,221.68 412.42,221.86 413.9,221.86 413.9,222.04 415.38,222.04 415.38,222.22 416.86,222.22 416.86,222.4 417.6,222.4 417.98,222.4 417.98,224.05 418.73,224.05 418.73,225.7 419.1,225.7 450.7,225.7" fill="none" stroke="#9a9a9a" stroke-width="0.9" stroke-linejoin="miter" />
<line x1="436.2" y1="254.1" x2="436.2" y2="251.8" stroke="#3333b8" stroke-width="0.8"/>
<polyline points="370.5,172.5 370.88,172.5 370.88,174.25 371.62,174.25 371.62,176 372,176 372.27,176 372.27,178 372.82,178 372.82,180 373.1,180 373.43,180 373.43,181.7 374.1,181.7 374.1,183.4 374.77,183.4 374.77,185.1 375.1,185.1 375.31,185.1 375.31,186.76 375.73,186.76 375.73,188.42 376.15,188.42 376.15,190.08 376.57,190.08 376.57,191.74 376.99,191.74 376.99,193.4 377.2,193.4 377.63,193.4 377.63,195.1 378.5,195.1 378.5,196.8 379.37,196.8 379.37,198.5 379.8,198.5 380.55,198.5 380.55,200.6 381.3,200.6 381.65,200.6 381.65,201.97 382.35,201.97 382.35,203.33 383.05,203.33 383.05,204.7 383.4,204.7 383.73,204.7 383.73,206.07 384.4,206.07 384.4,207.43 385.07,207.43 385.07,208.8 385.4,208.8 386,208.8 386,210.5 386.6,210.5 387.33,210.5 387.33,211.9 388.78,211.9 388.78,213.3 389.5,213.3 390.33,213.3 390.33,214.1 392,214.1 392,214.9 393.67,214.9 393.67,215.7 394.5,215.7 395.32,215.7 395.32,216.95 396.98,216.95 396.98,218.2 397.8,218.2 398.62,218.2 398.62,219.45 400.27,219.45 400.27,220.7 401.1,220.7 401.5,220.7 401.5,221.95 402.3,221.95 402.3,223.2 402.7,223.2 403.32,223.2 403.32,224 404.57,224 404.57,224.8 405.2,224.8 405.85,224.8 405.85,226.7 406.5,226.7 407.7,226.7 407.7,228.3 408.9,228.3 409.6,228.3 409.6,228.87 411,228.87 411,229.43 412.4,229.43 412.4,230 413.1,230 413.73,230 413.73,230.4 414.98,230.4 414.98,230.8 415.6,230.8 419.7,230.8 420.32,230.8 420.32,231.6 421.57,231.6 421.57,232.4 422.2,232.4 422.3,232.4 422.3,233.8 422.5,233.8 422.5,235.2 422.7,235.2 422.7,236.6 422.8,236.6 429.4,236.6 429.43,236.6 429.43,238.1 429.5,238.1 429.5,239.6 429.57,239.6 429.57,241.1 429.63,241.1 429.63,242.6 429.7,242.6 429.7,244.1 429.77,244.1 429.77,245.6 429.8,245.6 430.43,245.6 430.43,246 431.68,246 431.68,246.4 432.3,246.4 432.38,246.4 432.38,248.2 432.52,248.2 432.52,250 432.67,250 432.67,251.8 432.82,251.8 432.82,253.6 432.9,253.6 436.2,253.6" fill="none" stroke="#3333b8" stroke-width="1.2" stroke-linejoin="miter" />
<line x1="420.5" y1="263.47" x2="420.5" y2="261.2" stroke="#151515" stroke-width="0.8"/>
<polyline points="370.5,172.5 370.67,172.5 370.67,174 371,174 371,175.5 371.33,175.5 371.33,177 371.5,177 371.68,177 371.68,178.67 372.05,178.67 372.05,180.33 372.42,180.33 372.42,182 372.6,182 372.79,182 372.79,183.55 373.16,183.55 373.16,185.1 373.54,185.1 373.54,186.65 373.91,186.65 373.91,188.2 374.1,188.2 374.31,188.2 374.31,189.64 374.73,189.64 374.73,191.08 375.15,191.08 375.15,192.52 375.57,192.52 375.57,193.96 375.99,193.96 375.99,195.4 376.2,195.4 376.45,195.4 376.45,197.13 376.95,197.13 376.95,198.87 377.45,198.87 377.45,200.6 377.7,200.6 377.87,200.6 377.87,201.97 378.2,201.97 378.2,203.33 378.53,203.33 378.53,204.7 378.7,204.7 378.88,204.7 378.88,206.4 379.25,206.4 379.25,208.1 379.62,208.1 379.62,209.8 379.8,209.8 380.09,209.8 380.09,211.5 380.66,211.5 380.66,213.2 381.24,213.2 381.24,214.9 381.81,214.9 381.81,216.6 382.1,216.6 382.37,216.6 382.37,217.97 382.9,217.97 382.9,219.33 383.43,219.33 383.43,220.7 383.7,220.7 384.01,220.7 384.01,222.15 384.64,222.15 384.64,223.6 385.26,223.6 385.26,225.05 385.89,225.05 385.89,226.5 386.2,226.5 386.6,226.5 386.6,227.75 387.4,227.75 387.4,229 387.8,229 388.65,229 388.65,229.8 390.35,229.8 390.35,230.6 391.2,230.6 392.02,230.6 392.02,231.45 393.67,231.45 393.67,232.3 394.5,232.3 395.1,232.3 395.1,233.55 396.3,233.55 396.3,234.8 396.9,234.8 397.6,234.8 397.6,235.33 399,235.33 399,235.87 400.4,235.87 400.4,236.4 401.1,236.4 401.5,236.4 401.5,238.05 402.3,238.05 402.3,239.7 402.7,239.7 403.75,239.7 403.75,241.5 404.8,241.5 405.01,241.5 405.01,243.18 405.44,243.18 405.44,244.85 405.86,244.85 405.86,246.53 406.29,246.53 406.29,248.2 406.5,248.2 407.1,248.2 407.1,249.85 408.3,249.85 408.3,251.5 408.9,251.5 409.12,251.5 409.12,253.15 409.58,253.15 409.58,254.8 409.8,254.8 410.48,254.8 410.48,255.07 411.85,255.07 411.85,255.33 413.22,255.33 413.22,255.6 413.9,255.6 414.67,255.6 414.67,256.85 416.22,256.85 416.22,258.1 417,258.1 417.2,263 420.5,263" fill="none" stroke="#151515" stroke-width="1.15" stroke-linejoin="miter" />
<text x="412.5" y="183.09" font-size="6.4" font-weight="bold" fill="#000" text-anchor="middle" stroke="#000" stroke-width="0.25">1</text>
<text x="412.4" y="215.89" font-size="6.4" font-weight="bold" fill="#000" text-anchor="middle" stroke="#000" stroke-width="0.25">3</text>
<text x="412.4" y="239.69" font-size="6.4" font-weight="bold" fill="#000" text-anchor="middle" stroke="#000" stroke-width="0.25">2</text>
<text x="411.9" y="263.79" font-size="6.4" font-weight="bold" fill="#000" text-anchor="middle" stroke="#000" stroke-width="0.25">4</text>
<text x="446" y="170.69" font-size="6.4" font-weight="bold" fill="#45a0ec" text-anchor="start" stroke="#45a0ec" stroke-width="0.25"><tspan fill="#4f7090" stroke="#4f7090">1.</tspan> IPI &#8804;2 Non-DP (n=193)</text>
<text x="446" y="178.39" font-size="6.4" font-weight="bold" fill="#262080" text-anchor="start" stroke="#262080" stroke-width="0.25">2. IPI &#8804;2 DP (n=70)</text>
<text x="446" y="189.49" font-size="6.4" font-weight="bold" fill="#8a8a8a" text-anchor="start" stroke="#8a8a8a" stroke-width="0.25">3. IPI &gt;2 Non-DP (n=81)</text>
<text x="446" y="197.09" font-size="6.4" font-weight="bold" fill="#000" text-anchor="start" stroke="#000" stroke-width="0.25">4. IPI &gt;2 DP (n=67)</text>
<text x="446" y="248.79" font-size="6.4" font-weight="bold" fill="#000" text-anchor="start" stroke="#000" stroke-width="0.25">1 vs 2: p&lt;.0001</text>
<text x="446" y="256.69" font-size="6.4" font-weight="bold" fill="#000" text-anchor="start" stroke="#000" stroke-width="0.25">3 vs 4: p=.0010</text>
</svg>
</body></html>
